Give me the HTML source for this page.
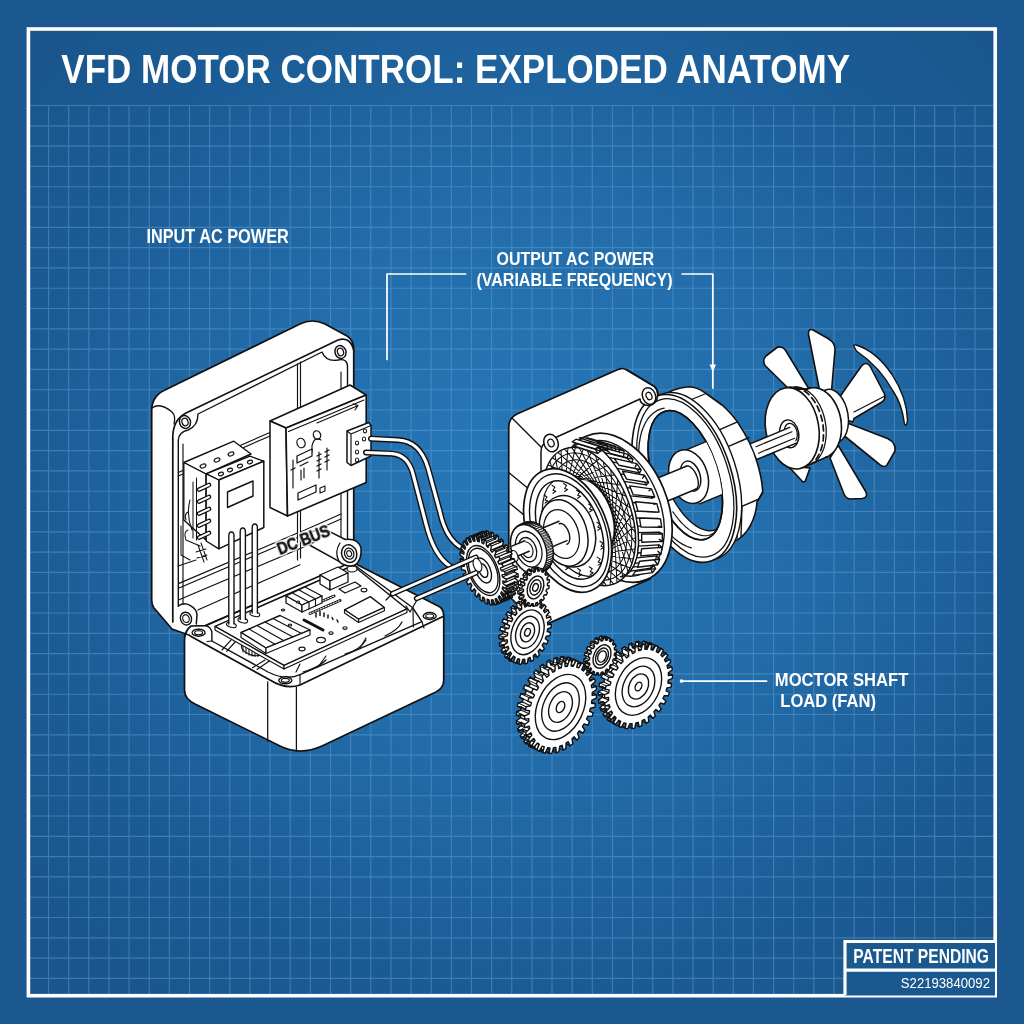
<!DOCTYPE html>
<html><head><meta charset="utf-8"><title>VFD Motor Control: Exploded Anatomy</title>
<style>
html,body{margin:0;padding:0;width:1024px;height:1024px;overflow:hidden;background:#1b588f}
svg{display:block;font-family:"Liberation Sans",Arial,sans-serif}
</style></head><body>
<svg width="1024" height="1024" viewBox="0 0 1024 1024">
<defs>
<filter id="gs" x="-5%" y="-20%" width="110%" height="140%"><feOffset dx="0" dy="0"/></filter>
<radialGradient id="bg" cx="530" cy="480" r="640" gradientUnits="userSpaceOnUse">
<stop offset="0" stop-color="#2778b8"/><stop offset=".45" stop-color="#226ca9"/><stop offset=".8" stop-color="#1b5b95"/><stop offset="1" stop-color="#1a568d"/>
</radialGradient>
</defs>
<rect width="1024" height="1024" fill="#1b588f"/>
<rect x="28" y="28" width="968" height="968" fill="url(#bg)"/>
<path id="gridp" d="M48.54 105.5V994M68.68 105.5V994M88.82 105.5V994M108.96 105.5V994M129.10 105.5V994M149.24 105.5V994M169.38 105.5V994M189.52 105.5V994M209.66 105.5V994M229.80 105.5V994M249.94 105.5V994M270.08 105.5V994M290.22 105.5V994M310.36 105.5V994M330.50 105.5V994M350.64 105.5V994M370.78 105.5V994M390.92 105.5V994M411.06 105.5V994M431.20 105.5V994M451.34 105.5V994M471.48 105.5V994M491.62 105.5V994M511.76 105.5V994M531.90 105.5V994M552.04 105.5V994M572.18 105.5V994M592.32 105.5V994M612.46 105.5V994M632.60 105.5V994M652.74 105.5V994M672.88 105.5V994M693.02 105.5V994M713.16 105.5V994M733.30 105.5V994M753.44 105.5V994M773.58 105.5V994M793.72 105.5V994M813.86 105.5V994M834.00 105.5V994M854.14 105.5V994M874.28 105.5V994M894.42 105.5V994M914.56 105.5V994M934.70 105.5V994M954.84 105.5V994M974.98 105.5V994M30 105.50H994M30 125.80H994M30 146.10H994M30 166.40H994M30 186.70H994M30 207.00H994M30 227.30H994M30 247.60H994M30 267.90H994M30 288.20H994M30 308.50H994M30 328.80H994M30 349.10H994M30 369.40H994M30 389.70H994M30 410.00H994M30 430.30H994M30 450.60H994M30 470.90H994M30 491.20H994M30 511.50H994M30 531.80H994M30 552.10H994M30 572.40H994M30 592.70H994M30 613.00H994M30 633.30H994M30 653.60H994M30 673.90H994M30 694.20H994M30 714.50H994M30 734.80H994M30 755.10H994M30 775.40H994M30 795.70H994M30 816.00H994M30 836.30H994M30 856.60H994M30 876.90H994M30 897.20H994M30 917.50H994M30 937.80H994M30 958.10H994M30 978.40H994" stroke="#6aa3d8" stroke-opacity=".45" stroke-width="1.15" fill="none"/>
<rect x="28.4" y="29" width="966.8" height="966.7" fill="none" stroke="#fff" stroke-width="3.6"/>
<rect x="845" y="941.5" width="150" height="54" fill="#1a5890"/>
<path d="M845 995V941.5H995M845 970.2H995" fill="none" stroke="#fff" stroke-width="3.2"/>
<text x="61.3" y="82.6" font-size="41.5" font-weight="bold" fill="#fff" text-anchor="start" textLength="788.7" lengthAdjust="spacingAndGlyphs" filter="url(#gs)" >VFD MOTOR CONTROL: EXPLODED ANATOMY</text>
<text x="146.4" y="242.9" font-size="19.5" font-weight="bold" fill="#fff" text-anchor="start" textLength="142.4" lengthAdjust="spacingAndGlyphs" filter="url(#gs)" >INPUT AC POWER</text>
<text x="496.6" y="265.2" font-size="18.7" font-weight="bold" fill="#fff" text-anchor="start" textLength="157.4" lengthAdjust="spacingAndGlyphs" filter="url(#gs)" >OUTPUT AC POWER</text>
<text x="476.5" y="285.5" font-size="18.7" font-weight="bold" fill="#fff" text-anchor="start" textLength="196" lengthAdjust="spacingAndGlyphs" filter="url(#gs)" >(VARIABLE FREQUENCY)</text>
<text x="774.8" y="685.5" font-size="18.3" font-weight="bold" fill="#fff" text-anchor="start" textLength="133.5" lengthAdjust="spacingAndGlyphs" filter="url(#gs)" >MOCTOR SHAFT</text>
<text x="780.3" y="706.6" font-size="18.3" font-weight="bold" fill="#fff" text-anchor="start" textLength="95.7" lengthAdjust="spacingAndGlyphs" filter="url(#gs)" >LOAD (FAN)</text>
<text x="853.3" y="963" font-size="19.5" font-weight="bold" fill="#fff" text-anchor="start" textLength="135.7" lengthAdjust="spacingAndGlyphs" filter="url(#gs)" >PATENT PENDING</text>
<text x="900.8" y="987.7" font-size="14.5" font-weight="normal" fill="#fff" text-anchor="start" textLength="89.2" lengthAdjust="spacingAndGlyphs" filter="url(#gs)" >S22193840092</text>
<path d="M151.7 410 Q152 396 165 390 L300 324 Q312 318 325 324 L347 336 Q353.75 340 353.75 350 L353.75 562 L186 634 L172 629 L154 608 Q151.7 605 151.7 600 Z" fill="#fff" stroke="#111" stroke-width="1.72" stroke-linejoin="round" stroke-linecap="round" />
<path d="M172.8 440 Q172 420 186 413 L338 340 Q350 336 353.75 350" fill="none" stroke="#111" stroke-width="1.72" stroke-linejoin="round" stroke-linecap="round" />
<path d="M172.8 440 L172.8 622" fill="none" stroke="#111" stroke-width="1.72" stroke-linejoin="round" stroke-linecap="round" />
<path d="M152 408 Q160 402 172 412 Q176 416 174 424" fill="none" stroke="#111" stroke-width="1.26" stroke-linejoin="round" stroke-linecap="round" />
<path d="M178.3 606 L178.3 440 Q179 432 188 430 Q198 426 198 414 L322 352 Q326 362 338 360 Q347 358 347.5 366 L347.5 545" fill="none" stroke="#111" stroke-width="1.38" stroke-linejoin="round" stroke-linecap="round" />
<path d="M183 604 L183 444 M341 372 L341 540" fill="none" stroke="#111" stroke-width="1.15" stroke-linejoin="round" stroke-linecap="round" />
<path d="M297.5 364 L297.5 560 M300.5 362 L300.5 558" fill="none" stroke="#111" stroke-width="1.15" stroke-linejoin="round" stroke-linecap="round" />
<path d="M178.3 472.5 L270 432.5 M178.3 476 L270 436" fill="none" stroke="#111" stroke-width="1.15" stroke-linejoin="round" stroke-linecap="round" />
<path d="M179 583.4 L297.5 533 M179 588 L297.5 537.5 M179 599.8 L332 535 M197.8 610 L300 564.7 M300.5 532 L341 514 M300.5 537 L341 519" fill="none" stroke="#111" stroke-width="1.15" stroke-linejoin="round" stroke-linecap="round" />
<ellipse cx="185.0" cy="422.0" rx="5.5" ry="6.5" transform="rotate(-20 185.0 422.0)" fill="#fff" stroke="#111" stroke-width="1.49" />
<ellipse cx="185.0" cy="422.0" rx="3.0" ry="3.8" transform="rotate(-20 185.0 422.0)" fill="#fff" stroke="#111" stroke-width="1.26" />
<ellipse cx="340.5" cy="352.0" rx="5.5" ry="6.5" transform="rotate(-20 340.5 352.0)" fill="#fff" stroke="#111" stroke-width="1.49" />
<ellipse cx="340.5" cy="352.0" rx="3.0" ry="3.8" transform="rotate(-20 340.5 352.0)" fill="#fff" stroke="#111" stroke-width="1.26" />
<path d="M178.3 606 Q184 602 190 605.3 Q197 609 197 615 L196.3 624" fill="none" stroke="#111" stroke-width="1.49" stroke-linejoin="round" stroke-linecap="round" />
<ellipse cx="186.0" cy="618.6" rx="5.5" ry="6.5" transform="rotate(-20 186.0 618.6)" fill="#fff" stroke="#111" stroke-width="1.38" />
<ellipse cx="186.0" cy="618.6" rx="3.2" ry="4.0" transform="rotate(-20 186.0 618.6)" fill="#fff" stroke="#111" stroke-width="1.15" />
<path d="M184.5 640 Q184.5 631 191 626 L205.6 625.6 L352 562 L440 607 Q443.75 610 443.75 616 L443.75 680 Q443.75 688 436 692 L322 746 Q300 756 280 746 L195 704 Q184.5 699 184.5 690 Z" fill="#fff" stroke="#111" stroke-width="1.72" stroke-linejoin="round" stroke-linecap="round" />
<path d="M184.5 636 Q185 632 192 637 L270 680 Q286 690 300 685 L443 616.5" fill="none" stroke="#111" stroke-width="1.72" stroke-linejoin="round" stroke-linecap="round" />
<path d="M267.7 682 L267.7 741 M296.4 687.5 L296.4 751" fill="none" stroke="#111" stroke-width="1.26" stroke-linejoin="round" stroke-linecap="round" />
<path d="M205.6 625.6 Q212 627 211.9 634 L211.9 641 L268 672 Q286 681 300 674.7 L421.9 621.6 L412.5 607.5 L354.7 565.3" fill="none" stroke="#111" stroke-width="1.38" stroke-linejoin="round" stroke-linecap="round" />
<path d="M211.9 641 L207 641.5 M300 685 L300 675 M413 608 L413.3 627 M421.9 621.6 L424 628" fill="none" stroke="#111" stroke-width="1.15" stroke-linejoin="round" stroke-linecap="round" />
<path d="M222 650 L231.4 639.7 M226.7 651.4 L236 641 M252.5 667.8 L265 660 M257 669.4 L269.7 660.8" fill="none" stroke="#111" stroke-width="1.15" stroke-linejoin="round" stroke-linecap="round" />
<ellipse cx="198.6" cy="632.7" rx="6.5" ry="3.5" transform="rotate(0 198.6 632.7)" fill="#fff" stroke="#111" stroke-width="1.38" />
<ellipse cx="198.6" cy="632.7" rx="4.0" ry="2.0" transform="rotate(0 198.6 632.7)" fill="#fff" stroke="#111" stroke-width="1.15" />
<ellipse cx="285.3" cy="680.3" rx="6.5" ry="3.5" transform="rotate(0 285.3 680.3)" fill="#fff" stroke="#111" stroke-width="1.38" />
<ellipse cx="285.3" cy="680.3" rx="4.0" ry="2.0" transform="rotate(0 285.3 680.3)" fill="#fff" stroke="#111" stroke-width="1.15" />
<ellipse cx="429.7" cy="616.0" rx="6.5" ry="3.5" transform="rotate(0 429.7 616.0)" fill="#fff" stroke="#111" stroke-width="1.38" />
<ellipse cx="429.7" cy="616.0" rx="4.0" ry="2.0" transform="rotate(0 429.7 616.0)" fill="#fff" stroke="#111" stroke-width="1.15" />
<path d="M303 672 Q318 668 326 660 M345 654 Q360 650 366 640 M385 636 Q398 630 402 622" fill="none" stroke="#111" stroke-width="1.26" stroke-linejoin="round" stroke-linecap="round" />
<path d="M318 667 L326 656 M360 648 L366 638 M296 672 L300 664" fill="none" stroke="#111" stroke-width="1.15" stroke-linejoin="round" stroke-linecap="round" />
<ellipse cx="252.0" cy="649.0" rx="11.0" ry="6.0" transform="rotate(20 252.0 649.0)" fill="#fff" stroke="#111" stroke-width="1.15" />
<path d="M243 646 l0 6 M246 647.5 l0 6 M249 649 l0 6 M252 650 l0 6 M255 651 l0 5.5 M258 651.5 l0 5 M261 651.5 l0 4" fill="none" stroke="#111" stroke-width="1.03" stroke-linejoin="round" stroke-linecap="round" />
<path d="M215.0 626.4 L353.0 565.5 L407.0 609.0 L284.0 665.5 Z" fill="#fff" stroke="#111" stroke-width="1.49" stroke-linejoin="round" stroke-linecap="round" />
<path d="M215.0 626.4 L284.0 665.5 L284.0 669.0 L215.0 630.0 Z" fill="#fff" stroke="#111" stroke-width="1.15" stroke-linejoin="round" stroke-linecap="round" />
<path d="M284.0 665.5 L407.0 609.0 L407.0 612.5 L284.0 669.0 Z" fill="#fff" stroke="#111" stroke-width="1.15" stroke-linejoin="round" stroke-linecap="round" />
<path d="M241.0 632.5 L280.0 615.5 L310.0 630.0 L266.0 648.0 Z" fill="#fff" stroke="#111" stroke-width="1.38" stroke-linejoin="round" stroke-linecap="round" />
<path d="M241.0 632.5 L266.0 648.0 L266.0 653.5 L241.0 637.5 Z" fill="#fff" stroke="#111" stroke-width="1.15" stroke-linejoin="round" stroke-linecap="round" />
<path d="M266.0 648.0 L310.0 630.0 L310.0 635.0 L266.0 653.5 Z" fill="#fff" stroke="#111" stroke-width="1.15" stroke-linejoin="round" stroke-linecap="round" />
<path d="M249 629 L275 644.3 M257 625.5 L284 640.7 M265 622 L293 637 M273 618.5 L301.5 633.4" fill="none" stroke="#111" stroke-width="1.15" stroke-linejoin="round" stroke-linecap="round" />
<path d="M344.5 609.8 L370.3 596.6 L384.4 607.5 L358.6 619.2 Z" fill="#fff" stroke="#111" stroke-width="1.38" stroke-linejoin="round" stroke-linecap="round" />
<path d="M344.5 609.8 L358.6 619.2 L358.6 622.4 L344.5 613.0 Z" fill="#fff" stroke="#111" stroke-width="1.15" stroke-linejoin="round" stroke-linecap="round" />
<path d="M358.6 619.2 L384.4 607.5 L384.4 610.7 L358.6 622.4 Z" fill="#fff" stroke="#111" stroke-width="1.15" stroke-linejoin="round" stroke-linecap="round" />
<path d="M304.5 609 L334 596 M310 613.5 L340 600.5" fill="none" stroke="#111" stroke-width="2.99" stroke-linejoin="round" stroke-linecap="round" />
<path d="M304.5 609 L334 596 M310 613.5 L340 600.5" fill="none" stroke="#fff" stroke-width="1.03" stroke-linejoin="round" stroke-linecap="round" stroke-dasharray="1.2 1.6"/>
<path d="M304 620 L323 630" fill="none" stroke="#111" stroke-width="2.99" stroke-linejoin="round" stroke-linecap="round" />
<path d="M316 613 l0 4 M320 611.5 l0 4 M324 613 l0 3.5 M328 615 l0 3 M332 617.5 l1 2 M337 620 l1 2" fill="none" stroke="#111" stroke-width="1.49" stroke-linejoin="round" stroke-linecap="round" />
<path d="M286.0 596.0 L305.0 587.0 L322.0 596.0 L302.0 605.0 Z" fill="#fff" stroke="#111" stroke-width="1.26" stroke-linejoin="round" stroke-linecap="round" />
<path d="M286.0 596.0 L302.0 605.0 L302.0 612.0 L286.0 603.0 Z" fill="#fff" stroke="#111" stroke-width="1.26" stroke-linejoin="round" stroke-linecap="round" />
<path d="M302.0 605.0 L322.0 596.0 L322.0 603.0 L302.0 612.0 Z" fill="#fff" stroke="#111" stroke-width="1.26" stroke-linejoin="round" stroke-linecap="round" />
<path d="M292.5 593 L309 602 L309 609 M299 590 L315.5 599 L315.5 606" fill="none" stroke="#111" stroke-width="1.15" stroke-linejoin="round" stroke-linecap="round" />
<path d="M320.0 575.0 L338.0 567.0 L348.0 573.0 L330.0 581.0 Z" fill="#fff" stroke="#111" stroke-width="1.26" stroke-linejoin="round" stroke-linecap="round" />
<path d="M320.0 575.0 L330.0 581.0 L330.0 590.0 L320.0 584.0 Z" fill="#fff" stroke="#111" stroke-width="1.26" stroke-linejoin="round" stroke-linecap="round" />
<path d="M330.0 581.0 L348.0 573.0 L348.0 582.0 L330.0 590.0 Z" fill="#fff" stroke="#111" stroke-width="1.26" stroke-linejoin="round" stroke-linecap="round" />
<ellipse cx="352.0" cy="569.0" rx="5.0" ry="3.0" transform="rotate(0 352.0 569.0)" fill="#fff" stroke="#111" stroke-width="1.15" />
<path d="M339.0 589.0 L355.0 582.0 L361.0 586.0 L345.0 593.0 Z" fill="#fff" stroke="#111" stroke-width="1.26" stroke-linejoin="round" stroke-linecap="round" />
<ellipse cx="321.0" cy="640.0" rx="4.4" ry="2.7" transform="rotate(0 321.0 640.0)" fill="#fff" stroke="#111" stroke-width="1.15" />
<ellipse cx="302.0" cy="649.0" rx="3.1" ry="1.9" transform="rotate(0 302.0 649.0)" fill="#fff" stroke="#111" stroke-width="1.15" />
<ellipse cx="345.0" cy="628.0" rx="2.1" ry="1.3" transform="rotate(0 345.0 628.0)" fill="#fff" stroke="#111" stroke-width="1.15" />
<ellipse cx="331.0" cy="633.0" rx="2.1" ry="1.3" transform="rotate(0 331.0 633.0)" fill="#fff" stroke="#111" stroke-width="1.15" />
<ellipse cx="364.0" cy="590.0" rx="2.9" ry="1.8" transform="rotate(0 364.0 590.0)" fill="#fff" stroke="#111" stroke-width="1.15" />
<ellipse cx="283.0" cy="610.0" rx="1.7" ry="1.0" transform="rotate(0 283.0 610.0)" fill="#fff" stroke="#111" stroke-width="1.15" />
<ellipse cx="290.0" cy="625.0" rx="1.7" ry="1.0" transform="rotate(0 290.0 625.0)" fill="#fff" stroke="#111" stroke-width="1.15" />
<ellipse cx="298.0" cy="602.0" rx="1.6" ry="1.0" transform="rotate(0 298.0 602.0)" fill="#fff" stroke="#111" stroke-width="1.15" />
<path d="M309.4 545 L339 561.4 Q346 568 355 565 Q362 560 361 548 Q358 538 345.3 539.5 L329.7 531.7 Z" fill="#fff" stroke="#111" stroke-width="1.49" stroke-linejoin="round" stroke-linecap="round" />
<ellipse cx="349.2" cy="553.6" rx="7.5" ry="9.0" transform="rotate(-20 349.2 553.6)" fill="#fff" stroke="#111" stroke-width="1.49" />
<ellipse cx="349.2" cy="553.6" rx="4.6" ry="5.6" transform="rotate(-20 349.2 553.6)" fill="#fff" stroke="#111" stroke-width="1.26" />
<ellipse cx="349.2" cy="553.6" rx="2.4" ry="3.0" transform="rotate(-20 349.2 553.6)" fill="#fff" stroke="#111" stroke-width="1.03" />
<path d="M339 561.4 Q334 552 340 543" fill="none" stroke="#111" stroke-width="1.26" stroke-linejoin="round" stroke-linecap="round" />
<path d="M183.8 462.5 L233.8 441.2 L251.0 454.0 L206.0 474.0 Z" fill="#fff" stroke="#111" stroke-width="1.38" stroke-linejoin="round" stroke-linecap="round" />
<path d="M183.8 462.5 L206.0 474.0 L206.0 540.0 L183.8 520.0 Z" fill="#fff" stroke="#111" stroke-width="1.38" stroke-linejoin="round" stroke-linecap="round" />
<path d="M206.2 473.8 L250.0 456.2 L263.8 461.2 L218.8 480.0 Z" fill="#fff" stroke="#111" stroke-width="1.38" stroke-linejoin="round" stroke-linecap="round" />
<path d="M218.8 480.0 L263.8 461.2 L263.8 527.5 L218.8 548.8 Z" fill="#fff" stroke="#111" stroke-width="1.49" stroke-linejoin="round" stroke-linecap="round" />
<path d="M206.2 473.8 L218.8 480.0 L218.8 548.8 L206.2 541.0 Z" fill="#fff" stroke="#111" stroke-width="1.38" stroke-linejoin="round" stroke-linecap="round" />
<path d="M227.5 492.0 L253.0 481.0 L253.0 496.0 L227.5 507.5 Z" fill="#fff" stroke="#111" stroke-width="1.38" stroke-linejoin="round" stroke-linecap="round" />
<ellipse cx="203.0" cy="466.0" rx="3.0" ry="1.8" transform="rotate(-20 203.0 466.0)" fill="#fff" stroke="#111" stroke-width="1.15" />
<ellipse cx="217.0" cy="460.0" rx="3.0" ry="1.8" transform="rotate(-20 217.0 460.0)" fill="#fff" stroke="#111" stroke-width="1.15" />
<ellipse cx="231.0" cy="454.0" rx="3.0" ry="1.8" transform="rotate(-20 231.0 454.0)" fill="#fff" stroke="#111" stroke-width="1.15" />
<ellipse cx="221.0" cy="474.0" rx="2.6" ry="1.7" transform="rotate(-20 221.0 474.0)" fill="#fff" stroke="#111" stroke-width="1.15" />
<ellipse cx="230.0" cy="470.0" rx="2.6" ry="1.7" transform="rotate(-20 230.0 470.0)" fill="#fff" stroke="#111" stroke-width="1.15" />
<ellipse cx="240.0" cy="466.0" rx="2.6" ry="1.7" transform="rotate(-20 240.0 466.0)" fill="#fff" stroke="#111" stroke-width="1.15" />
<ellipse cx="250.0" cy="462.0" rx="2.6" ry="1.7" transform="rotate(-20 250.0 462.0)" fill="#fff" stroke="#111" stroke-width="1.15" />
<path d="M196.5 478 L196.5 540 M193 482 L193 538 M190 500 Q186 515 192 530" fill="none" stroke="#111" stroke-width="1.03" stroke-linejoin="round" stroke-linecap="round" />
<path d="M199 489.6 L209 485" fill="none" stroke="#111" stroke-width="4.6" stroke-linecap="round"/>
<path d="M199 489.6 L209 485" fill="none" stroke="#fff" stroke-width="2" stroke-linecap="round"/>
<path d="M199 501.6 L209 497" fill="none" stroke="#111" stroke-width="4.6" stroke-linecap="round"/>
<path d="M199 501.6 L209 497" fill="none" stroke="#fff" stroke-width="2" stroke-linecap="round"/>
<path d="M199 513.6 L209 509" fill="none" stroke="#111" stroke-width="4.6" stroke-linecap="round"/>
<path d="M199 513.6 L209 509" fill="none" stroke="#fff" stroke-width="2" stroke-linecap="round"/>
<path d="M199 525.6 L209 521" fill="none" stroke="#111" stroke-width="4.6" stroke-linecap="round"/>
<path d="M199 525.6 L209 521" fill="none" stroke="#fff" stroke-width="2" stroke-linecap="round"/>
<path d="M199 537.6 L209 533" fill="none" stroke="#111" stroke-width="4.6" stroke-linecap="round"/>
<path d="M199 537.6 L209 533" fill="none" stroke="#fff" stroke-width="2" stroke-linecap="round"/>
<path d="M181 526 L181 555 L190 560 M186 540 L200 546 M178 566 L196 560 M188 512 Q184 514 186 520 M188 530 Q183 532 186 540" fill="none" stroke="#111" stroke-width="1.03" stroke-linejoin="round" stroke-linecap="round" />
<path d="M198 545 L204 562 M201 543 L207 560 M196 552 L206 549 M197 558 L207 555" fill="none" stroke="#111" stroke-width="1.03" stroke-linejoin="round" stroke-linecap="round" />
<ellipse cx="231.4" cy="625.0" rx="5.0" ry="2.4" transform="rotate(15 231.4 625.0)" fill="#fff" stroke="#111" stroke-width="1.15" />
<path d="M228.8 624 L228.8 536 Q228.8 532 231.4 532 Q234.0 532 234.0 536 L234.0 624" fill="#fff" stroke="#111" stroke-width="1.38" stroke-linejoin="round" stroke-linecap="round" />
<ellipse cx="242.8" cy="620.4" rx="5.0" ry="2.4" transform="rotate(15 242.8 620.4)" fill="#fff" stroke="#111" stroke-width="1.15" />
<path d="M240.20000000000002 619.4 L240.20000000000002 532 Q240.20000000000002 528 242.8 528 Q245.4 528 245.4 532 L245.4 619.4" fill="#fff" stroke="#111" stroke-width="1.38" stroke-linejoin="round" stroke-linecap="round" />
<ellipse cx="254.8" cy="614.0" rx="5.0" ry="2.4" transform="rotate(15 254.8 614.0)" fill="#fff" stroke="#111" stroke-width="1.15" />
<path d="M252.20000000000002 613 L252.20000000000002 528 Q252.20000000000002 524 254.8 524 Q257.40000000000003 524 257.40000000000003 528 L257.40000000000003 613" fill="#fff" stroke="#111" stroke-width="1.38" stroke-linejoin="round" stroke-linecap="round" />
<path d="M270.0 421.0 L350.0 385.0 L366.2 395.0 L286.0 428.0 Z" fill="#fff" stroke="#111" stroke-width="1.49" stroke-linejoin="round" stroke-linecap="round" />
<path d="M270.0 421.0 L286.0 428.0 L287.5 516.0 L270.0 507.5 Z" fill="#fff" stroke="#111" stroke-width="1.49" stroke-linejoin="round" stroke-linecap="round" />
<path d="M286.0 428.0 L366.2 395.0 L366.2 482.5 L287.5 516.0 Z" fill="#fff" stroke="#111" stroke-width="1.61" stroke-linejoin="round" stroke-linecap="round" />
<path d="M288.5 431.5 L364 400" fill="none" stroke="#111" stroke-width="1.15" stroke-linejoin="round" stroke-linecap="round" />
<path d="M317 423 L357 406 M353 404 L358 405.5 L355 410" fill="none" stroke="#111" stroke-width="1.15" stroke-linejoin="round" stroke-linecap="round" />
<ellipse cx="301.0" cy="443.0" rx="4.0" ry="4.8" transform="rotate(-20 301.0 443.0)" fill="#fff" stroke="#111" stroke-width="1.26" />
<ellipse cx="317.0" cy="435.0" rx="3.6" ry="4.3" transform="rotate(-20 317.0 435.0)" fill="#fff" stroke="#111" stroke-width="1.26" />
<path d="M321 440 Q314 436 312 446 L312 452" fill="none" stroke="#111" stroke-width="1.15" stroke-linejoin="round" stroke-linecap="round" />
<path d="M297.0 456.0 L312.0 449.0 L312.0 456.0 L297.0 463.0 Z" fill="#fff" stroke="#111" stroke-width="1.26" stroke-linejoin="round" stroke-linecap="round" />
<path d="M298.0 493.0 L316.0 485.0 L316.0 492.0 L298.0 500.0 Z" fill="#fff" stroke="#111" stroke-width="1.26" stroke-linejoin="round" stroke-linecap="round" />
<path d="M293 460 L293 488 M319 452 L319 478 M327 448 L327 470" fill="none" stroke="#111" stroke-width="1.15" stroke-linejoin="round" stroke-linecap="round" />
<path d="M291 470 L295 468 M317 456 L321 454 M317 461 L321 459 M317 466 L321 464 M317 471 L321 469 M325 452 L329 450 M325 457 L329 455 M325 462 L329 460" fill="none" stroke="#111" stroke-width="1.38" stroke-linejoin="round" stroke-linecap="round" />
<path d="M301 470 L301 480 M304 468 L304 478 M300 466 L308 462" fill="none" stroke="#111" stroke-width="1.15" stroke-linejoin="round" stroke-linecap="round" />
<path d="M320.0 488.0 L325.0 486.0 L325.0 491.0 L320.0 493.0 Z" fill="#fff" stroke="#111" stroke-width="1.15" stroke-linejoin="round" stroke-linecap="round" />
<path d="M347.0 431.0 L368.8 422.5 L371.0 425.5 L371.0 456.0 L351.0 465.5 L347.0 462.5 Z" fill="#fff" stroke="#111" stroke-width="1.49" stroke-linejoin="round" stroke-linecap="round" />
<path d="M347 431 L351 434 L371 425.5 M351 434 L351 465.5" fill="none" stroke="#111" stroke-width="1.15" stroke-linejoin="round" stroke-linecap="round" />
<ellipse cx="357.0" cy="443.0" rx="1.6" ry="2.0" transform="rotate(0 357.0 443.0)" fill="#fff" stroke="#111" stroke-width="1.03" />
<ellipse cx="357.0" cy="452.0" rx="1.6" ry="2.0" transform="rotate(0 357.0 452.0)" fill="#fff" stroke="#111" stroke-width="1.03" />
<ellipse cx="357.0" cy="460.0" rx="1.6" ry="2.0" transform="rotate(0 357.0 460.0)" fill="#fff" stroke="#111" stroke-width="1.03" />
<ellipse cx="365.0" cy="431.0" rx="1.6" ry="2.0" transform="rotate(0 365.0 431.0)" fill="#fff" stroke="#111" stroke-width="1.03" />
<ellipse cx="364.0" cy="439.0" rx="1.6" ry="2.0" transform="rotate(0 364.0 439.0)" fill="#fff" stroke="#111" stroke-width="1.03" />
<g filter="url(#gs)" transform="rotate(-21 280 555.5)" font-size="16.5" font-weight="bold"><text x="280" y="555.5" fill="#fff" stroke="#fff" stroke-width="3.6" stroke-linejoin="round" textLength="55" lengthAdjust="spacingAndGlyphs">DC BUS</text><text x="280" y="555.5" fill="#111" stroke="#111" stroke-width=".55" textLength="55" lengthAdjust="spacingAndGlyphs">DC BUS</text></g>
<path d="M366 452.5 L392 453.7 Q408 455 413 474 L426 524 Q434 556 450 566" fill="none" stroke="#111" stroke-width="6" stroke-linecap="round"/>
<path d="M366 452.5 L392 453.7 Q408 455 413 474 L426 524 Q434 556 450 566" fill="none" stroke="#fff" stroke-width="3.2" stroke-linecap="round"/>
<path d="M371 438.7 L398 440 Q420 441 428 468 L440 512 Q446 540 463 548.5" fill="none" stroke="#111" stroke-width="6" stroke-linecap="round"/>
<path d="M371 438.7 L398 440 Q420 441 428 468 L440 512 Q446 540 463 548.5" fill="none" stroke="#fff" stroke-width="3.2" stroke-linecap="round"/>
<path d="M392 594 L386 600 M417 600 L410 612 L406 606" fill="none" stroke="#111" stroke-width="1.26" stroke-linejoin="round" stroke-linecap="round" />
<path d="M508.75 427 Q508.75 418 517 414 L618 369.5 Q622.5 367.5 627 370 L650 384 Q660 388 657 399 L650 408 L650 579 L552.5 621.6 L541 627 L508.75 596 Z" fill="#fff" stroke="#111" stroke-width="1.72" stroke-linejoin="round" stroke-linecap="round" />
<path d="M541 620 L541 452 Q541 444 548 441 L640 399" fill="none" stroke="#111" stroke-width="1.49" stroke-linejoin="round" stroke-linecap="round" />
<path d="M512 418 L541 447 M508.75 472.5 L541 499 M508.75 502.5 L541 529" fill="none" stroke="#111" stroke-width="1.38" stroke-linejoin="round" stroke-linecap="round" />
<ellipse cx="551.0" cy="443.0" rx="7.0" ry="9.0" transform="rotate(-22.6 551.0 443.0)" fill="#fff" stroke="#111" stroke-width="1.49" />
<ellipse cx="551.0" cy="443.0" rx="3.0" ry="4.0" transform="rotate(-22.6 551.0 443.0)" fill="#fff" stroke="#111" stroke-width="1.26" />
<path d="M660 398 Q672 388 688.6 386.7 Q698 387 706 393.5 L722 405 Q732 414 737.4 421.9 Q752 444 757 462 Q762 478 762.8 492 L757 502 Q756 518 747 531 Q740 540 731.5 542 L722 548 L690 500 Z" fill="#fff" stroke="#111" stroke-width="1.61" stroke-linejoin="round" stroke-linecap="round" />
<path d="M719.8 429.7 L737.4 421.9 M728.6 446.3 L749 437.5 M738.4 507.8 L759 499 L762.8 492 M738.4 507.8 L737 538 M742 506 L741 536" fill="none" stroke="#111" stroke-width="1.38" stroke-linejoin="round" stroke-linecap="round" />
<path d="M706 393.5 L688 401" fill="none" stroke="#111" stroke-width="1.26" stroke-linejoin="round" stroke-linecap="round" />
<ellipse cx="689.3" cy="476.4" rx="47.2" ry="86.8" transform="rotate(-18 689.3 476.4)" fill="#fff" stroke="#111" stroke-width="1.38" />
<ellipse cx="684.3" cy="478.4" rx="47.2" ry="86.8" transform="rotate(-18 684.3 478.4)" fill="#fff" stroke="#111" stroke-width="1.61" />
<ellipse cx="685.3" cy="477.9" rx="43.5" ry="82.0" transform="rotate(-18 685.3 477.9)" fill="none" stroke="#111" stroke-width="1.26" />
<path d="M691.3 547.9 L687.1 546.5 L682.8 544.4 L678.5 541.7 L674.3 538.4 L670.1 534.5 L666.1 530.2 L662.2 525.3 L658.6 520.1 L655.1 514.4 L651.9 508.5 L649.0 502.2 L646.4 495.7 L644.2 489.1 L642.3 482.4 L640.8 475.6 L639.7 468.8 L639.0 462.2 L638.7 455.7 L638.8 449.4 L639.3 443.4 L640.2 437.7 L641.5 432.3 L643.2 427.4 L645.3 423.0 L647.7 419.0 L650.5 415.7 L653.5 412.9 L656.8 410.7 L660.4 409.1 L664.2 408.1" fill="none" stroke="#111" stroke-width="1.26" stroke-linejoin="round" stroke-linecap="round" />
<ellipse cx="685.3" cy="475.2" rx="32.5" ry="67.0" transform="rotate(-18 685.3 475.2)" fill="url(#bg)" stroke="#111" stroke-width="1.49" />
<clipPath id="hole"><ellipse cx="685.3" cy="475.2" rx="32.5" ry="67" transform="rotate(-18 685.3 475.2)"/></clipPath>
<g clip-path="url(#hole)">
<path d="M652.74 400V550M672.88 400V550M693.02 400V550M713.16 400V550M733.30 400V550M640 410.00H735M640 430.30H735M640 450.60H735M640 470.90H735M640 491.20H735M640 511.50H735M640 531.80H735" stroke="#6aa3d8" stroke-opacity=".45" stroke-width="1.15" fill="none"/>
<path d="M712.1 454.2 L714.0 459.0 L715.8 463.8 L717.3 468.6 L718.6 473.6 L719.8 478.5 L720.8 483.4 L721.5 488.2 L722.1 493.0 L722.4 497.7 L722.5 502.3 L722.4 506.6 L722.1 510.8 L721.5 514.8 L720.8 518.6 L719.8 522.1 L718.7 525.4 L717.3 528.3 L715.8 530.9 L714.1 533.3 L712.2 535.2 L710.2 536.9 L708.0 538.1 L705.7 539.0 L703.2 539.6 L700.7 539.7 L698.1 539.5 L695.4 538.9 L692.6 537.9 L689.8 536.6 L687.0 534.9 L684.1 532.8 L681.3 530.5 L678.5 527.8 L675.7 524.8 L673.0 521.5 L670.4 517.9 L667.8 514.1 L665.3 510.1 L663.0 505.8 L660.8 501.4 L669.8 492.4 L672.0 496.8 L674.3 501.1 L676.8 505.1 L679.4 508.9 L682.0 512.5 L684.7 515.8 L687.5 518.8 L690.3 521.5 L693.1 523.8 L696.0 525.9 L698.8 527.6 L701.6 528.9 L704.4 529.9 L707.1 530.5 L709.7 530.7 L712.2 530.6 L714.7 530.0 L717.0 529.1 L719.2 527.9 L721.2 526.2 L723.1 524.3 L724.8 521.9 L726.3 519.3 L727.7 516.4 L728.8 513.1 L729.8 509.6 L730.5 505.8 L731.1 501.8 L731.4 497.6 L731.5 493.3 L731.4 488.7 L731.1 484.0 L730.5 479.2 L729.8 474.4 L728.8 469.5 L727.6 464.6 L726.3 459.6 L724.8 454.8 L723.0 450.0 L721.1 445.2 Z" fill="#fff" stroke="#111" stroke-width="1.38" stroke-linejoin="round" stroke-linecap="round" />
<path d="M725.4 483.6 L725.9 487.1 L726.2 490.6 L726.4 494.1 L726.5 497.5 L726.5 500.8 L726.3 504.0 L726.1 507.1 L725.7 510.1 L725.2 512.9 L724.5 515.6 L723.8 518.2 L723.0 520.6 L722.0 522.9 L721.0 525.0 L719.8 526.9 L718.5 528.7 L717.2 530.3 L715.8 531.6 L714.2 532.8 L712.6 533.8 L710.9 534.6 L709.2 535.2 L707.4 535.5 L705.5 535.7 L703.6 535.7 L701.6 535.4 L699.6 534.9 L697.6 534.3 L695.5 533.4 L693.4 532.4 L691.3 531.1 L689.2 529.6 L687.1 528.0 L685.0 526.2 L682.9 524.2 L680.8 522.0 L678.8 519.7 L676.8 517.2 L674.8 514.5 L672.9 511.8" fill="none" stroke="#111" stroke-width="1.15" stroke-linejoin="round" stroke-linecap="round" />
</g>
<ellipse cx="685.3" cy="475.2" rx="32.5" ry="67.0" transform="rotate(-18 685.3 475.2)" fill="none" stroke="#111" stroke-width="1.49" />
<path d="M750.7 443.6 L791.7 426.6 L798.3 442.3 L757.3 459.3 Z" fill="#fff" stroke="none" stroke-width="1.49" stroke-linejoin="round" stroke-linecap="round" />
<path d="M750.7 443.6 L791.7 426.6 M757.3 459.3 L798.3 442.3" fill="none" stroke="#111" stroke-width="1.49" stroke-linejoin="round" stroke-linecap="round" />
<path d="M756.0 446.7 L794.0 430.9 M758.5 453.2 L796.5 437.4" fill="none" stroke="#111" stroke-width="1.15" stroke-linejoin="round" stroke-linecap="round" />
<g clip-path="url(#hole)">
<path d="M678.4 453.1 L719.4 436.1 L740.6 486.9 L699.6 503.9 Z" fill="#fff" stroke="none" stroke-width="1.49" stroke-linejoin="round" stroke-linecap="round" />
<path d="M678.4 453.1 L719.4 436.1 M699.6 503.9 L740.6 486.9" fill="none" stroke="#111" stroke-width="1.49" stroke-linejoin="round" stroke-linecap="round" />
</g>
<ellipse cx="688.6" cy="476.6" rx="19.0" ry="27.5" transform="rotate(-18 688.6 476.6)" fill="#fff" stroke="#111" stroke-width="1.49" />
<ellipse cx="690.6" cy="476.1" rx="9.5" ry="15.5" transform="rotate(-18 690.6 476.1)" fill="#fff" stroke="#111" stroke-width="1.38" />
<path d="M635.2 487.4 L686.2 466.2 L695.8 489.2 L644.8 510.5 Z" fill="#fff" stroke="none" stroke-width="1.49" stroke-linejoin="round" stroke-linecap="round" />
<path d="M635.2 487.4 L686.2 466.2 M644.8 510.5 L695.8 489.2" fill="none" stroke="#111" stroke-width="1.49" stroke-linejoin="round" stroke-linecap="round" />
<path d="M686.2 466.2 L687.1 465.9 L688.1 466.0 L689.2 466.4 L690.4 467.0 L691.5 467.9 L692.7 469.1 L693.8 470.4 L694.8 471.9 L695.7 473.6 L696.5 475.4 L697.2 477.2 L697.8 479.1 L698.1 480.9 L698.3 482.6 L698.3 484.2 L698.1 485.7 L697.8 486.9 L697.3 488.0 L696.6 488.7 L695.8 489.2" fill="none" stroke="#111" stroke-width="1.38" stroke-linejoin="round" stroke-linecap="round" />
<path d="M640 399 L622 369 L650 384 Q660 388 657 399 Q654 406 646 405 Z" fill="#fff" stroke="none" stroke-width="0.0" stroke-linejoin="round" stroke-linecap="round" />
<path d="M627 370 L650 384 Q660 388 657 399 Q654 407 645 405 Q640 403 640 399" fill="none" stroke="#111" stroke-width="1.61" stroke-linejoin="round" stroke-linecap="round" />
<ellipse cx="649.0" cy="396.0" rx="6.5" ry="8.5" transform="rotate(-22.6 649.0 396.0)" fill="#fff" stroke="#111" stroke-width="1.49" />
<ellipse cx="649.0" cy="396.0" rx="2.8" ry="3.8" transform="rotate(-22.6 649.0 396.0)" fill="#fff" stroke="#111" stroke-width="1.26" />
<ellipse cx="616.5" cy="507.8" rx="50.8" ry="77.8" transform="rotate(-22.6 616.5 507.8)" fill="#fff" stroke="#111" stroke-width="1.72" />
<ellipse cx="615.0" cy="508.4" rx="44.5" ry="71.0" transform="rotate(-22.6 615.0 508.4)" fill="#fff" stroke="#111" stroke-width="1.38" />
<clipPath id="st"><ellipse cx="589.0" cy="516.5" rx="42.0" ry="72.0" transform="rotate(-20.0 589.0 516.5)"/></clipPath>
<ellipse cx="589.0" cy="516.5" rx="42.0" ry="72.0" transform="rotate(-20 589.0 516.5)" fill="#fff" stroke="#111" stroke-width="1.49" />
<g clip-path="url(#st)">
<path d="M628.5 502.1L594.6 583.9M632.1 514.1L586.5 580.2M634.5 526.1L578.5 574.5M635.5 537.9L570.8 567.1M635.1 549.0L563.6 558.1M633.2 559.1L557.3 547.9M630.1 567.9L551.8 536.7M625.6 575.2L547.5 524.9M620.1 580.6L544.5 512.9M613.6 584.2L542.8 500.9M606.4 585.6L542.5 489.5M598.6 585.0L543.7 478.8M590.6 582.3L546.2 469.3M582.5 577.6L550.0 461.3M574.6 571.0L555.0 454.9M567.1 562.8L561.0 450.4M560.3 553.1L567.9 447.8M554.4 542.4L575.4 447.4M549.5 530.9L583.4 449.1M545.9 518.9L591.5 452.8M543.5 506.9L599.5 458.5M542.5 495.1L607.2 465.9M542.9 484.0L614.4 474.9M544.8 473.9L620.7 485.1M547.9 465.1L626.2 496.3M552.4 457.8L630.5 508.1M557.9 452.4L633.5 520.1M564.4 448.8L635.2 532.1M571.6 447.4L635.5 543.5M579.4 448.0L634.3 554.2M587.4 450.7L631.8 563.7M595.5 455.4L628.0 571.7M603.4 462.0L623.0 578.1M610.9 470.2L617.0 582.6M617.7 479.9L610.1 585.2M623.6 490.6L602.6 585.6" fill="none" stroke="#111" stroke-width="1.03" stroke-linejoin="round" stroke-linecap="round" />
<ellipse cx="589.0" cy="516.5" rx="38.6" ry="66.2" transform="rotate(-20 589.0 516.5)" fill="none" stroke="#111" stroke-width="1.03" />
<ellipse cx="589.0" cy="516.5" rx="34.4" ry="59.0" transform="rotate(-20 589.0 516.5)" fill="none" stroke="#111" stroke-width="1.03" />
</g>
<path d="M575.1 445.6 L577.4 444.0 L580.0 442.9 L582.7 442.3 L585.5 442.2 L588.5 442.7 L591.6 443.6 L594.7 445.0 L597.9 447.0 L601.1 449.4 L604.3 452.2 L607.6 455.5 L610.7 459.2 L613.8 463.3 L616.8 467.8 L619.7 472.5 L622.4 477.6 L625.0 482.8 L627.4 488.3 L629.7 494.0 L631.7 499.7 L633.4 505.6 L635.0 511.4 L636.2 517.3 L637.2 523.1 L638.0 528.8 L638.4 534.3 L638.6 539.7 L638.5 544.8 L638.1 549.7 L637.5 554.2 L636.6 558.4 L635.4 562.3 L633.9 565.7 L632.2 568.7 L630.3 571.3 L628.1 573.4 L625.8 575.0 L623.2 576.1 L620.5 576.7" fill="none" stroke="#111" stroke-width="1.49" stroke-linejoin="round" stroke-linecap="round" />
<path d="M574.4 446.2L597.5 453.4L600.9 451.1L577.7 443.9ZM580.7 442.7L603.9 449.9L607.9 449.4L584.7 442.2ZM588.1 442.6L611.2 449.7L615.6 450.9L592.6 444.0ZM596.2 445.9L619.2 452.6L623.7 455.5L600.9 449.2ZM604.6 452.5L627.4 458.5L631.8 463.0L609.2 457.4ZM612.8 462.0L635.3 467.1L639.5 472.9L617.2 468.3ZM620.5 473.9L642.6 478.1L646.3 484.9L624.3 481.3ZM627.2 487.7L649.0 490.7L651.9 498.2L630.3 495.8ZM632.5 502.5L654.0 504.4L656.1 512.2L634.8 511.0ZM636.3 517.8L657.4 518.5L658.5 526.2L637.7 526.1ZM638.3 532.6L659.0 532.2L659.2 539.4L638.6 540.3ZM638.4 546.2L658.8 544.9L657.9 551.2L637.7 553.0ZM636.7 557.9L656.8 555.9L655.0 561.0L634.9 563.4ZM633.1 567.2L653.1 564.6L650.3 568.2L630.4 571.1Z" fill="#fff" stroke="#111" stroke-width="1.26" stroke-linejoin="round" stroke-linecap="round" />
<path d="M572.3 441.8L595.4 448.9L599.1 446.4L576.0 439.2ZM597.5 453.4L595.4 448.9M600.9 451.1L599.1 446.4M579.2 437.9L602.4 445.2L606.8 444.6L583.6 437.4ZM603.9 449.9L602.4 445.2M607.9 449.4L606.8 444.6M587.3 437.8L610.5 444.8L615.2 446.1L592.2 439.2ZM611.2 449.7L610.5 444.8M615.6 450.9L615.2 446.1M596.2 441.3L619.1 447.9L624.1 451.0L601.2 444.7ZM619.2 452.6L619.1 447.9M623.7 455.5L624.1 451.0M605.3 448.3L628.0 454.3L632.9 459.1L610.3 453.5ZM627.4 458.5L628.0 454.3M631.8 463.0L632.9 459.1M614.2 458.4L636.7 463.6L641.2 469.8L618.9 465.2ZM635.3 467.1L636.7 463.6M639.5 472.9L641.2 469.8M622.5 471.1L644.6 475.3L648.6 482.7L626.6 479.1ZM642.6 478.1L644.6 475.3M646.3 484.9L648.6 482.7M629.7 485.9L651.5 488.9L654.7 497.0L633.1 494.6ZM649.0 490.7L651.5 488.9M651.9 498.2L654.7 497.0M635.4 501.8L656.9 503.7L659.1 512.1L637.9 510.9ZM654.0 504.4L656.9 503.7M656.1 512.2L659.1 512.1M639.5 518.1L660.5 518.9L661.7 527.2L640.9 527.0ZM657.4 518.5L660.5 518.9M658.5 526.2L661.7 527.2M641.6 534.0L662.3 533.7L662.4 541.4L641.8 542.3ZM659.0 532.2L662.3 533.7M659.2 539.4L662.4 541.4M641.6 548.7L662.0 547.4L661.0 554.2L640.7 555.9ZM658.8 544.9L662.0 547.4M657.9 551.2L661.0 554.2M639.6 561.3L659.7 559.2L657.7 564.7L637.6 567.2ZM656.8 555.9L659.7 559.2M655.0 561.0L657.7 564.7M635.6 571.2L655.6 568.6L652.6 572.6L632.7 575.4ZM653.1 564.6L655.6 568.6M650.3 568.2L652.6 572.6" fill="#fff" stroke="#111" stroke-width="1.38" stroke-linejoin="round" stroke-linecap="round" />
<ellipse cx="567.6" cy="530.5" rx="39.8" ry="64.5" transform="rotate(-21.7 567.6 530.5)" fill="#fff" stroke="#111" stroke-width="1.72" />
<ellipse cx="569.1" cy="530.2" rx="35.5" ry="59.0" transform="rotate(-21.7 569.1 530.2)" fill="#fff" stroke="#111" stroke-width="1.38" />
<ellipse cx="569.6" cy="530.0" rx="30.5" ry="51.5" transform="rotate(-21.7 569.6 530.0)" fill="#fff" stroke="#111" stroke-width="1.49" />
<clipPath id="fr"><ellipse cx="569.6" cy="530.0" rx="30.5" ry="51.5" transform="rotate(-21.7 569.6 530.0)"/></clipPath>
<g clip-path="url(#fr)">
<ellipse cx="576.6" cy="527.0" rx="30.5" ry="51.5" transform="rotate(-21.7 576.6 527.0)" fill="none" stroke="#111" stroke-width="1.26" />
<path d="M596.8 522.3l3 2l-2 3l3 1l-3 2M599.9 541.2l3 2l-2 3l3 1l-3 2M597.2 557.1l3 2l-2 3l3 1l-3 2M589.2 566.8l3 2l-2 3l3 1l-3 2M577.6 568.5l3 2l-2 3l3 1l-3 2M564.5 561.8l3 2l-2 3l3 1l-3 2M552.7 547.9l3 2l-2 3l3 1l-3 2M544.4 529.8l3 2l-2 3l3 1l-3 2M541.3 510.9l3 2l-2 3l3 1l-3 2M544.0 495.0l3 2l-2 3l3 1l-3 2M551.9 485.2l3 2l-2 3l3 1l-3 2M563.6 483.5l3 2l-2 3l3 1l-3 2M576.6 490.2l3 2l-2 3l3 1l-3 2M588.5 504.0l3 2l-2 3l3 1l-3 2" fill="none" stroke="#111" stroke-width="1.03" stroke-linejoin="round" stroke-linecap="round" />
</g>
<ellipse cx="568.5" cy="531.3" rx="26.0" ry="36.5" transform="rotate(-18 568.5 531.3)" fill="#fff" stroke="#111" stroke-width="1.49" />
<ellipse cx="563.7" cy="533.0" rx="23.1" ry="34.0" transform="rotate(-18 563.7 533.0)" fill="#fff" stroke="#111" stroke-width="1.49" />
<ellipse cx="561.5" cy="534.0" rx="17.0" ry="25.0" transform="rotate(-18 561.5 534.0)" fill="#fff" stroke="#111" stroke-width="1.26" />
<path d="M531.0 532.9 L559.0 521.3 L567.0 540.6 L539.0 552.3 Z" fill="#fff" stroke="none" stroke-width="1.49" stroke-linejoin="round" stroke-linecap="round" />
<path d="M531.0 532.9 L559.0 521.3 M539.0 552.3 L567.0 540.6" fill="none" stroke="#111" stroke-width="1.49" stroke-linejoin="round" stroke-linecap="round" />
<path d="M559.2 523.7 L560.2 523.5 L561.2 523.5 L562.2 523.9 L563.3 524.4 L564.3 525.2 L565.3 526.3 L566.3 527.5 L567.2 528.9 L568.0 530.4 L568.6 531.9 L569.2 533.6 L569.5 535.2 L569.7 536.9 L569.8 538.4 L569.6 539.9 L569.4 541.2 L568.9 542.3 L568.3 543.2 L567.6 543.9 L566.8 544.3" fill="none" stroke="#111" stroke-width="1.38" stroke-linejoin="round" stroke-linecap="round" />
<path d="M550.6 541.2 L551.5 541.2 L551.9 542.2 L551.1 542.7 L551.4 543.7 L552.4 543.8 L552.6 544.8 L551.8 545.2 L552.0 546.2 L553.0 546.5 L553.2 547.5 L552.3 547.8 L552.4 548.7 L553.4 549.2 L553.5 550.2 L552.6 550.3 L552.7 551.3 L553.7 551.8 L553.7 552.8 L552.7 552.8 L552.7 553.8 L553.7 554.4 L553.6 555.4 L552.6 555.3 L552.6 556.2 L553.5 557.0 L553.3 557.9 L552.4 557.6 L552.2 558.5 L553.1 559.4 L552.9 560.3 L551.9 559.9 L551.7 560.7 L552.5 561.7 L552.2 562.5 L551.2 561.9 L550.9 562.7 L551.7 563.8 L551.3 564.5 L550.4 563.9 L550.0 564.6 L550.7 565.7 L550.3 566.4 L549.3 565.6 L548.9 566.2 L549.5 567.4 L549.0 568.0 L548.1 567.2 L547.7 567.7 L548.2 568.9 L547.6 569.5 L546.8 568.5 L546.3 568.9 L546.7 570.2 L546.1 570.6 L545.3 569.6 L544.7 569.9 L545.1 571.2 L544.4 571.5 L543.7 570.4 L543.1 570.7 L543.4 572.0 L542.7 572.2 L542.0 571.0 L541.4 571.1 L541.5 572.5 L540.8 572.6 L540.3 571.3 L539.6 571.4 L539.6 572.6 L538.9 572.6 L538.4 571.4 L537.7 571.3 L537.7 572.6 L536.9 572.5 L536.6 571.1 L535.8 571.0 L535.7 572.2 L534.9 572.0 L534.6 570.7 L533.9 570.4 L533.7 571.6 L532.9 571.2 L532.7 569.9 L532.0 569.6 L531.7 570.6 L530.9 570.2 L530.9 568.9 L530.1 568.5 L529.7 569.5 L528.9 569.0 L529.0 567.7 L528.3 567.2 L527.8 568.1 L527.1 567.5 L527.2 566.2 L526.6 565.6 L525.9 566.4 L525.3 565.7 L525.5 564.6 L524.9 563.9 L524.2 564.5 L523.5 563.8 L523.9 562.7 L523.3 562.0 L522.5 562.5 L522.0 561.7 L522.4 560.7 L521.9 559.9 L521.0 560.3 L520.5 559.4 L521.1 558.5 L520.6 557.6 L519.7 557.9 L519.2 557.0 L519.8 556.2 L519.4 555.3 L518.5 555.4 L518.1 554.5 L518.8 553.8 L518.4 552.8 L517.5 552.8 L517.1 551.8 L517.9 551.3 L517.6 550.3 L516.6 550.2 L516.4 549.2 L517.2 548.8 L517.0 547.8 L516.0 547.5 L515.8 546.5 L516.7 546.2 L516.6 545.3 L515.6 544.8 L515.5 543.8 L516.4 543.7 L516.3 542.7 L515.3 542.2 L515.3 541.2 L516.3 541.2 L516.3 540.2 L515.3 539.6 L515.4 538.6 L516.4 538.7 L516.4 537.8 L515.5 537.0 L515.7 536.1 L516.6 536.4 L516.8 535.5 L515.9 534.6 L516.1 533.7 L517.1 534.1 L517.3 533.3 L516.5 532.3 L516.8 531.5 L517.8 532.1 L518.1 531.3 L517.3 530.2 L517.7 529.5 L518.6 530.1 L519.0 529.4 L518.3 528.3 L518.7 527.6 L519.7 528.4 L520.1 527.8 L519.5 526.6 L520.0 526.0 L520.9 526.8 L521.3 526.3 L520.8 525.1 L521.4 524.5 L522.2 525.5 L522.7 525.1 L522.3 523.8 L522.9 523.4 L523.7 524.4 L524.3 524.1 L523.9 522.8 L524.6 522.5 L525.3 523.6 L525.9 523.3 L525.6 522.0 L526.3 521.8 L527.0 523.0 L527.6 522.9 L527.5 521.5 L528.2 521.4 L528.7 522.7 L529.4 522.6 L529.4 521.4 L530.1 521.4 L530.6 522.6 L531.3 522.7 L531.3 521.4 L532.1 521.5 L532.4 522.9 L533.2 523.0 L533.3 521.8 L534.1 522.0 L534.4 523.3 L535.1 523.6 L535.3 522.4 L536.1 522.8 L536.3 524.1 L537.0 524.4 L537.3 523.4 L538.1 523.8 L538.1 525.1 L538.9 525.5 L539.3 524.5 L540.1 525.0 L540.0 526.3 L540.7 526.8 L541.2 525.9 L541.9 526.5 L541.8 527.8 L542.4 528.4 L543.1 527.6 L543.7 528.3 L543.5 529.4 L544.1 530.1 L544.8 529.5 L545.5 530.2 L545.1 531.3 L545.7 532.0 L546.5 531.5 L547.0 532.3 L546.6 533.3 L547.1 534.1 L548.0 533.7 L548.5 534.6 L547.9 535.5 L548.4 536.4 L549.3 536.1 L549.8 537.0 L549.2 537.8 L549.6 538.7 L550.5 538.6 L550.9 539.5 L550.2 540.2 Z" fill="#fff" stroke="#111" stroke-width="1.03" stroke-linejoin="round" stroke-linecap="round" />
<path d="M550.6 541.2L545.1 543.4M551.9 542.2L546.4 544.4M551.4 543.7L545.9 545.9M552.6 544.8L547.1 547.0M552.0 546.2L546.5 548.4M553.2 547.5L547.7 549.7M552.4 548.7L546.9 550.9M553.5 550.2L548.0 552.4M552.7 551.3L547.2 553.5M553.7 552.8L548.2 555.0M552.7 553.8L547.2 556.0M553.6 555.4L548.1 557.6M552.6 556.2L547.1 558.4M553.3 557.9L547.8 560.1M552.2 558.5L546.7 560.7M552.9 560.3L547.4 562.5M551.7 560.7L546.2 562.9M552.2 562.5L546.7 564.7M550.9 562.7L545.4 564.9M551.3 564.5L545.8 566.7M550.0 564.6L544.5 566.8M550.3 566.4L544.8 568.6M548.9 566.2L543.4 568.4M549.0 568.0L543.5 570.2M547.7 567.7L542.2 569.9M547.6 569.5L542.1 571.7M546.3 568.9L540.8 571.1M546.1 570.6L540.6 572.8M544.7 569.9L539.2 572.1M544.4 571.5L538.9 573.7M543.1 570.7L537.6 572.9M542.7 572.2L537.2 574.4M541.4 571.1L535.9 573.3M540.8 572.6L535.3 574.8M539.6 571.4L534.1 573.6M538.9 572.6L533.4 574.8M537.7 571.3L532.2 573.5M536.9 572.5L531.4 574.7M535.8 571.0L530.3 573.2M534.9 572.0L529.4 574.2M533.9 570.4L528.4 572.6M532.9 571.2L527.4 573.4M532.0 569.6L526.5 571.8M530.9 570.2L525.4 572.4M530.1 568.5L524.6 570.7M528.9 569.0L523.4 571.2M528.3 567.2L522.8 569.4M527.1 567.5L521.6 569.7M526.6 565.6L521.1 567.8M525.3 565.7L519.8 567.9M524.9 563.9L519.4 566.1M523.5 563.8L518.0 566.0M523.3 562.0L517.8 564.2M522.0 561.7L516.5 563.9M521.9 559.9L516.4 562.1M520.5 559.4L515.0 561.6M520.6 557.6L515.1 559.8M519.2 557.0L513.7 559.2M519.4 555.3L513.9 557.5M518.1 554.5L512.6 556.7M518.4 552.8L512.9 555.0M517.1 551.8L511.6 554.0M517.6 550.3L512.1 552.5M516.4 549.2L510.9 551.4M517.0 547.8L511.5 550.0M515.8 546.5L510.3 548.7M516.6 545.3L511.1 547.5M515.5 543.8L510.0 546.0M516.3 542.7L510.8 544.9M515.3 541.2L509.8 543.4M516.3 540.2L510.8 542.4M515.4 538.6L509.9 540.8M516.4 537.8L510.9 540.0M515.7 536.1L510.2 538.3M516.8 535.5L511.3 537.7M516.1 533.7L510.6 535.9M517.3 533.3L511.8 535.5M516.8 531.5L511.3 533.7M518.1 531.3L512.6 533.5M517.7 529.5L512.2 531.7M519.0 529.4L513.5 531.6M518.7 527.6L513.2 529.8M520.1 527.8L514.6 530.0M520.0 526.0L514.5 528.2M521.3 526.3L515.8 528.5M521.4 524.5L515.9 526.7M522.7 525.1L517.2 527.3M522.9 523.4L517.4 525.6M524.3 524.1L518.8 526.3M524.6 522.5L519.1 524.7M525.9 523.3L520.4 525.5M526.3 521.8L520.8 524.0M527.6 522.9L522.1 525.1M528.2 521.4L522.7 523.6M529.4 522.6L523.9 524.8M530.1 521.4L524.6 523.6M531.3 522.7L525.8 524.9M532.1 521.5L526.6 523.7M533.2 523.0L527.7 525.2M534.1 522.0L528.6 524.2M535.1 523.6L529.6 525.8M536.1 522.8L530.6 525.0M537.0 524.4L531.5 526.6M538.1 523.8L532.6 526.0M538.9 525.5L533.4 527.7M540.1 525.0L534.6 527.2M540.7 526.8L535.2 529.0M541.9 526.5L536.4 528.7M542.4 528.4L536.9 530.6M543.7 528.3L538.2 530.5M544.1 530.1L538.6 532.3M545.5 530.2L540.0 532.4M545.7 532.0L540.2 534.2M547.0 532.3L541.5 534.5M547.1 534.1L541.6 536.3M548.5 534.6L543.0 536.8M548.4 536.4L542.9 538.6M549.8 537.0L544.3 539.2M549.6 538.7L544.1 540.9M550.9 539.5L545.4 541.7" fill="none" stroke="#111" stroke-width="0.8" stroke-linejoin="round" stroke-linecap="round" />
<ellipse cx="528.7" cy="549.2" rx="17.0" ry="25.5" transform="rotate(-20 528.7 549.2)" fill="#fff" stroke="#111" stroke-width="1.49" />
<ellipse cx="528.7" cy="549.2" rx="12.5" ry="18.5" transform="rotate(-20 528.7 549.2)" fill="#fff" stroke="#111" stroke-width="1.26" />
<ellipse cx="527.7" cy="549.6" rx="8.5" ry="12.5" transform="rotate(-20 527.7 549.6)" fill="#fff" stroke="#111" stroke-width="1.38" />
<ellipse cx="527.2" cy="549.8" rx="5.5" ry="8.0" transform="rotate(-20 527.2 549.8)" fill="#fff" stroke="#111" stroke-width="1.15" />
<path d="M511.8 546.1 L524.8 540.7 L529.2 551.2 L516.2 556.6 Z" fill="#fff" stroke="none" stroke-width="1.49" stroke-linejoin="round" stroke-linecap="round" />
<path d="M511.8 546.1 L524.8 540.7 M516.2 556.6 L529.2 551.2" fill="none" stroke="#111" stroke-width="1.49" stroke-linejoin="round" stroke-linecap="round" />
<ellipse cx="514.5" cy="556.0" rx="3.2" ry="5.7" transform="rotate(-20 514.5 556.0)" fill="#fff" stroke="#111" stroke-width="1.26" />
<path d="M789 389 L765 365.5 Q762 360 766 356 L777 347.5 Q781 345.5 785 349.5 L809 389 Z" fill="#fff" stroke="#111" stroke-width="1.61" stroke-linejoin="round" stroke-linecap="round" />
<path d="M819.5 390 L808.5 334.5 Q808 328 813 330 L828 338.5 Q835.5 343 835 350 L831 397 Z" fill="#fff" stroke="#111" stroke-width="1.61" stroke-linejoin="round" stroke-linecap="round" />
<path d="M836.5 401.5 L861.5 366 Q866 361 870 366 L884.5 394 Q886 399.5 882 402 L854 418.5 L853 422 L840 418 Z" fill="#fff" stroke="#111" stroke-width="1.61" stroke-linejoin="round" stroke-linecap="round" />
<path d="M843.5 421.5 L887.5 438.5 Q896.5 443 895 451 L887 465 Q884 468.5 879 464 L842 434 Z" fill="#fff" stroke="#111" stroke-width="1.61" stroke-linejoin="round" stroke-linecap="round" />
<path d="M838 445 L866 492 Q868 498 862 498.5 L850 499 Q846 498.5 844 494 L830 458 Z" fill="#fff" stroke="#111" stroke-width="1.61" stroke-linejoin="round" stroke-linecap="round" />
<path d="M788 466 L802.5 481.5 Q805 483 806 479 L810 468 Z" fill="#fff" stroke="#111" stroke-width="1.61" stroke-linejoin="round" stroke-linecap="round" />
<path d="M854 412 L884 396.5" fill="none" stroke="#111" stroke-width="1.26" stroke-linejoin="round" stroke-linecap="round" />
<ellipse cx="832.0" cy="416.0" rx="16.0" ry="27.0" transform="rotate(-10 832.0 416.0)" fill="#fff" stroke="#111" stroke-width="1.49" />
<ellipse cx="817.0" cy="423.0" rx="24.0" ry="35.5" transform="rotate(-10 817.0 423.0)" fill="#fff" stroke="#111" stroke-width="1.49" />
<path d="M780.7 389.3 L782.6 388.5 L784.6 388.0 L786.7 387.7 L788.8 387.7 L790.9 387.9 L793.0 388.3 L795.1 389.0 L797.2 390.0 L799.3 391.2 L801.3 392.6 L803.3 394.2 L805.2 396.1 L807.0 398.1 L808.8 400.3 L810.4 402.7 L811.9 405.3 L813.3 408.0 L814.6 410.8 L815.7 413.7 L816.7 416.8 L817.5 419.8 L818.2 423.0 L818.7 426.2 L819.0 429.4 L819.2 432.5 L819.2 435.7 L819.1 438.8 L818.8 441.9 L818.3 444.8 L817.7 447.7 L816.9 450.4 L815.9 453.0 L814.8 455.5 L813.6 457.8 L812.2 459.9 L810.7 461.8 L809.1 463.5 L807.4 465.0 L805.6 466.2 L803.7 467.3 L827.2 456.7 L828.9 455.8 L830.5 454.7 L832.1 453.4 L833.5 451.9 L834.9 450.2 L836.1 448.4 L837.3 446.4 L838.3 444.3 L839.2 442.0 L839.9 439.6 L840.5 437.2 L840.9 434.6 L841.3 431.9 L841.4 429.2 L841.4 426.5 L841.3 423.7 L841.0 421.0 L840.5 418.2 L839.9 415.5 L839.2 412.8 L838.3 410.2 L837.3 407.7 L836.2 405.2 L835.0 402.9 L833.6 400.7 L832.2 398.6 L830.6 396.7 L829.0 395.0 L827.3 393.4 L825.5 392.0 L823.7 390.8 L821.8 389.8 L819.9 388.9 L818.0 388.3 L816.1 388.0 L814.2 387.8 L812.3 387.9 L810.4 388.1 L808.6 388.6 L806.8 389.3 Z" fill="#fff" stroke="none" stroke-width="1.38" stroke-linejoin="round" stroke-linecap="round" />
<path d="M805.3 390.1 L807.1 389.2 L809.0 388.5 L810.9 388.0 L812.8 387.8 L814.8 387.8 L816.8 388.1 L818.8 388.6 L820.8 389.3 L822.8 390.2 L824.7 391.4 L826.6 392.8 L828.4 394.4 L830.1 396.1 L831.8 398.1 L833.3 400.2 L834.7 402.5 L836.1 404.9 L837.2 407.5 L838.3 410.1 L839.2 412.8 L840.0 415.6 L840.6 418.5 L841.0 421.3 L841.3 424.2 L841.4 427.1 L841.4 430.0 L841.2 432.8 L840.8 435.5 L840.3 438.2 L839.6 440.7 L838.7 443.1 L837.8 445.4 L836.6 447.6 L835.4 449.6 L834.0 451.4 L832.5 453.0 L830.9 454.4 L829.2 455.6 L827.4 456.6 L825.6 457.3" fill="none" stroke="#111" stroke-width="1.49" stroke-linejoin="round" stroke-linecap="round" />
<path d="M786.8 389.4 L788.6 388.4 L790.5 387.7 L792.5 387.1 L794.6 386.9 L796.6 386.9 L798.7 387.1 L800.8 387.6 L802.9 388.3 L804.9 389.2 L806.9 390.4 L808.9 391.8 L810.8 393.4 L812.7 395.2 L814.5 397.2 L816.2 399.4 L817.7 401.8 L819.2 404.3 L820.6 407.0 L821.8 409.7 L822.9 412.6 L823.8 415.5 L824.6 418.6 L825.2 421.6 L825.7 424.7 L826.1 427.9 L826.2 431.0 L826.2 434.0 L826.0 437.1 L825.7 440.0 L825.2 442.9 L824.6 445.7 L823.8 448.4 L822.8 450.9 L821.7 453.3 L820.5 455.5 L819.2 457.5 L817.7 459.4 L816.1 461.0 L814.4 462.4 L812.6 463.6" fill="none" stroke="#111" stroke-width="1.26" stroke-linejoin="round" stroke-linecap="round" />
<path d="M785.3 388.7 L787.1 388.0 L789.0 387.4 L791.0 387.1 L793.0 387.1 L795.0 387.2 L797.0 387.6 L799.0 388.2 L801.0 389.0 L803.0 390.0 L804.9 391.3 L806.8 392.7 L808.6 394.4 L810.4 396.2 L812.1 398.2 L813.7 400.4 L815.2 402.7 L816.6 405.1 L817.9 407.7 L819.1 410.4 L820.1 413.2 L821.0 416.1 L821.8 419.0 L822.5 422.0 L823.0 425.0 L823.3 428.0 L823.5 431.0 L823.5 434.0 L823.4 437.0 L823.2 439.9 L822.8 442.7 L822.2 445.4 L821.5 448.1 L820.7 450.6 L819.7 453.0 L818.6 455.2 L817.4 457.3 L816.1 459.3 L814.6 461.0 L813.1 462.6 L811.4 463.9" fill="none" stroke="#111" stroke-width="1.72" stroke-linejoin="round" stroke-linecap="round" stroke-dasharray="6 4"/>
<path d="M780.7 389.3L806.8 389.3M803.7 467.3L827.2 456.7" fill="none" stroke="#111" stroke-width="1.49" stroke-linejoin="round" stroke-linecap="round" />
<ellipse cx="792.2" cy="428.3" rx="26.5" ry="41.0" transform="rotate(-10 792.2 428.3)" fill="#fff" stroke="#111" stroke-width="1.61" />
<ellipse cx="789.2" cy="433.8" rx="9.5" ry="14.0" transform="rotate(-10 789.2 433.8)" fill="#fff" stroke="#111" stroke-width="1.38" />
<ellipse cx="790.7" cy="433.3" rx="6.5" ry="10.0" transform="rotate(-10 790.7 433.3)" fill="#fff" stroke="#111" stroke-width="1.26" />
<path d="M854 346.5 Q852.5 344.5 856 345 Q876 351 892 374.5 Q907 398 907.5 420 Q906.5 427.5 904.5 424 Q902 404 893 391 Q880 367 856.5 351 Z" fill="#fff" stroke="#111" stroke-width="1.38" stroke-linejoin="round" stroke-linecap="round" />
<path d="M761.7 439.1 L789.7 427.4 L796.3 443.1 L768.3 454.8 Z" fill="#fff" stroke="none" stroke-width="1.49" stroke-linejoin="round" stroke-linecap="round" />
<path d="M761.7 439.1 L789.7 427.4 M768.3 454.8 L796.3 443.1" fill="none" stroke="#111" stroke-width="1.49" stroke-linejoin="round" stroke-linecap="round" />
<path d="M764.0 443.4 L792.0 431.8 M766.5 449.9 L794.5 438.3" fill="none" stroke="#111" stroke-width="1.15" stroke-linejoin="round" stroke-linecap="round" />
<path d="M540.6 637.1 L543.4 639.2 L542.1 642.2 L538.8 641.2 L537.5 643.7 L539.6 646.9 L537.8 649.5 L535.1 647.3 L533.4 649.4 L534.7 653.4 L532.6 655.5 L530.5 652.3 L528.6 653.8 L528.9 658.4 L526.6 659.8 L525.4 655.8 L523.4 656.7 L522.8 661.5 L520.4 662.2 L520.1 657.5 L518.1 657.7 L516.6 662.5 L514.3 662.3 L515.0 657.5 L513.2 656.9 L510.9 661.3 L508.9 660.3 L510.5 655.6 L508.9 654.4 L505.9 658.1 L504.4 656.3 L506.7 651.9 L505.6 650.2 L502.2 652.9 L501.1 650.5 L504.1 646.9 L503.4 644.6 L499.8 646.3 L499.3 643.4 L502.7 640.7 L502.6 638.2 L499.0 638.5 L499.1 635.4 L502.7 633.8 L503.1 631.1 L499.8 630.2 L500.6 627.1 L504.1 626.8 L505.0 624.1 L502.2 622.0 L503.5 619.0 L506.8 619.9 L508.1 617.5 L506.0 614.3 L507.8 611.7 L510.5 613.8 L512.2 611.8 L510.9 607.8 L513.0 605.7 L515.1 608.9 L517.0 607.4 L516.7 602.8 L519.0 601.3 L520.2 605.4 L522.2 604.5 L522.8 599.7 L525.2 599.0 L525.5 603.6 L527.5 603.5 L529.0 598.7 L531.3 598.8 L530.6 603.7 L532.4 604.2 L534.7 599.8 L536.7 600.8 L535.1 605.6 L536.7 606.8 L539.7 603.1 L541.2 604.9 L538.9 609.2 L540.0 611.0 L543.4 608.3 L544.5 610.6 L541.5 614.3 L542.2 616.5 L545.8 614.9 L546.3 617.8 L542.9 620.5 L543.0 623.0 L546.6 622.7 L546.5 625.8 L542.9 627.3 L542.5 630.0 L545.8 630.9 L545.1 634.1 L541.5 634.4 Z" fill="#fff" stroke="#111" stroke-width="1.38" stroke-linejoin="round" stroke-linecap="round" />
<path d="M545.3 638.8L540.6 637.1M548.1 640.9L543.4 639.2M546.8 643.9L542.1 642.2M543.5 643.0L538.8 641.2M542.2 645.4L537.5 643.7M544.3 648.6L539.6 646.9M542.5 651.2L537.8 649.5M539.8 649.1L535.1 647.3M538.1 651.1L533.4 649.4M539.4 655.1L534.7 653.4M537.3 657.2L532.6 655.5M535.2 654.0L530.5 652.3M533.3 655.5L528.6 653.8M533.6 660.1L528.9 658.4M531.3 661.5L526.6 659.8M530.1 657.5L525.4 655.8M528.1 658.4L523.4 656.7M527.5 663.2L522.8 661.5M525.1 663.9L520.4 662.2M524.8 659.2L520.1 657.5M522.8 659.4L518.1 657.7M521.3 664.2L516.6 662.5M519.0 664.0L514.3 662.3M519.7 659.2L515.0 657.5M517.9 658.7L513.2 656.9M515.6 663.1L510.9 661.3M513.6 662.0L508.9 660.3M515.2 657.3L510.5 655.6M513.6 656.1L508.9 654.4M510.6 659.8L505.9 658.1M509.1 658.0L504.4 656.3M511.4 653.7L506.7 651.9M510.3 651.9L505.6 650.2M506.9 654.6L502.2 652.9M505.8 652.3L501.1 650.5M508.8 648.6L504.1 646.9M508.1 646.4L503.4 644.6M504.5 648.0L499.8 646.3M504.0 645.1L499.3 643.4M507.4 642.4L502.7 640.7M507.3 639.9L502.6 638.2M503.7 640.2L499.0 638.5M503.8 637.1L499.1 635.4M507.4 635.6L502.7 633.8M507.8 632.9L503.1 631.1M504.5 632.0L499.8 630.2M505.3 628.8L500.6 627.1M508.8 628.5L504.1 626.8M509.7 625.8L505.0 624.1M506.9 623.7L502.2 622.0M508.2 620.7L503.5 619.0M511.5 621.6L506.8 619.9M512.8 619.2L508.1 617.5M510.7 616.0L506.0 614.3M512.5 613.4L507.8 611.7M515.2 615.5L510.5 613.8M516.9 613.5L512.2 611.8M515.6 609.5L510.9 607.8M517.7 607.4L513.0 605.7M519.8 610.6L515.1 608.9M521.7 609.1L517.0 607.4M521.4 604.5L516.7 602.8M523.7 603.1L519.0 601.3M524.9 607.1L520.2 605.4M526.9 606.2L522.2 604.5M527.5 601.4L522.8 599.7M529.9 600.7L525.2 599.0M530.2 605.4L525.5 603.6M532.2 605.2L527.5 603.5M533.7 600.4L529.0 598.7M536.0 600.6L531.3 598.8M535.3 605.4L530.6 603.7M537.1 605.9L532.4 604.2M539.4 601.5L534.7 599.8M541.4 602.6L536.7 600.8M539.8 607.3L535.1 605.6M541.4 608.5L536.7 606.8M544.4 604.8L539.7 603.1M545.9 606.6L541.2 604.9M543.6 610.9L538.9 609.2M544.7 612.7L540.0 611.0M548.1 610.0L543.4 608.3M549.2 612.3L544.5 610.6M546.2 616.0L541.5 614.3M546.9 618.2L542.2 616.5M550.5 616.6L545.8 614.9M551.0 619.5L546.3 617.8M547.6 622.2L542.9 620.5M547.7 624.7L543.0 623.0M551.3 624.4L546.6 622.7M551.2 627.5L546.5 625.8M547.6 629.0L542.9 627.3M547.2 631.7L542.5 630.0M550.5 632.6L545.8 630.9M549.7 635.8L545.1 634.1M546.2 636.1L541.5 634.4" fill="none" stroke="#111" stroke-width="1.03" stroke-linejoin="round" stroke-linecap="round" />
<path d="M545.3 638.8 L548.1 640.9 L546.8 643.9 L543.5 643.0 L542.2 645.4 L544.3 648.6 L542.5 651.2 L539.8 649.1 L538.1 651.1 L539.4 655.1 L537.3 657.2 L535.2 654.0 L533.3 655.5 L533.6 660.1 L531.3 661.5 L530.1 657.5 L528.1 658.4 L527.5 663.2 L525.1 663.9 L524.8 659.2 L522.8 659.4 L521.3 664.2 L519.0 664.0 L519.7 659.2 L517.9 658.7 L515.6 663.1 L513.6 662.0 L515.2 657.3 L513.6 656.1 L510.6 659.8 L509.1 658.0 L511.4 653.7 L510.3 651.9 L506.9 654.6 L505.8 652.3 L508.8 648.6 L508.1 646.4 L504.5 648.0 L504.0 645.1 L507.4 642.4 L507.3 639.9 L503.7 640.2 L503.8 637.1 L507.4 635.6 L507.8 632.9 L504.5 632.0 L505.3 628.8 L508.8 628.5 L509.7 625.8 L506.9 623.7 L508.2 620.7 L511.5 621.6 L512.8 619.2 L510.7 616.0 L512.5 613.4 L515.2 615.5 L516.9 613.5 L515.6 609.5 L517.7 607.4 L519.8 610.6 L521.7 609.1 L521.4 604.5 L523.7 603.1 L524.9 607.1 L526.9 606.2 L527.5 601.4 L529.9 600.7 L530.2 605.4 L532.2 605.2 L533.7 600.4 L536.0 600.6 L535.3 605.4 L537.1 605.9 L539.4 601.5 L541.4 602.6 L539.8 607.3 L541.4 608.5 L544.4 604.8 L545.9 606.6 L543.6 610.9 L544.7 612.7 L548.1 610.0 L549.2 612.3 L546.2 616.0 L546.9 618.2 L550.5 616.6 L551.0 619.5 L547.6 622.2 L547.7 624.7 L551.3 624.4 L551.2 627.5 L547.6 629.0 L547.2 631.7 L550.5 632.6 L549.7 635.8 L546.2 636.1 Z" fill="#fff" stroke="#111" stroke-width="1.38" stroke-linejoin="round" stroke-linecap="round" />
<ellipse cx="527.5" cy="632.3" rx="15.6" ry="23.1" transform="rotate(20 527.5 632.3)" fill="#fff" stroke="#111" stroke-width="1.38" />
<ellipse cx="527.5" cy="632.3" rx="11.2" ry="16.5" transform="rotate(20 527.5 632.3)" fill="#fff" stroke="#111" stroke-width="1.38" />
<ellipse cx="527.5" cy="632.3" rx="6.7" ry="9.9" transform="rotate(20 527.5 632.3)" fill="#fff" stroke="#111" stroke-width="1.38" />
<ellipse cx="527.5" cy="632.3" rx="2.7" ry="4.0" transform="rotate(20 527.5 632.3)" fill="#fff" stroke="#111" stroke-width="1.38" />
<path d="M542.2 589.9 L543.7 591.2 L542.6 593.6 L540.8 593.2 L539.6 595.1 L540.5 597.2 L539.0 599.1 L537.5 597.8 L536.1 599.2 L536.2 601.8 L534.4 603.1 L533.6 601.0 L532.0 601.7 L531.4 604.5 L529.6 604.9 L529.4 602.4 L527.9 602.4 L526.7 605.0 L525.0 604.5 L525.5 601.8 L524.2 601.0 L522.5 603.2 L521.2 601.9 L522.4 599.3 L521.5 597.9 L519.5 599.3 L518.7 597.4 L520.4 595.2 L520.0 593.3 L518.0 593.8 L517.8 591.4 L519.7 590.0 L519.9 587.9 L518.1 587.4 L518.5 584.9 L520.6 584.3 L521.2 582.2 L519.8 580.8 L520.9 578.4 L522.7 578.9 L523.9 577.0 L523.0 574.9 L524.5 572.9 L526.0 574.3 L527.4 572.9 L527.3 570.3 L529.1 569.0 L529.9 571.1 L531.5 570.3 L532.1 567.6 L533.9 567.1 L534.1 569.7 L535.6 569.7 L536.8 567.1 L538.5 567.5 L538.0 570.3 L539.3 571.0 L540.9 568.9 L542.3 570.2 L541.1 572.8 L542.0 574.2 L544.0 572.8 L544.8 574.7 L543.1 576.9 L543.5 578.7 L545.5 578.3 L545.7 580.6 L543.7 582.0 L543.6 584.2 L545.4 584.7 L544.9 587.2 L542.9 587.7 Z" fill="#fff" stroke="#111" stroke-width="1.38" stroke-linejoin="round" stroke-linecap="round" />
<path d="M546.0 591.2L542.2 589.9M547.4 592.6L543.7 591.2M546.4 595.0L542.6 593.6M544.5 594.6L540.8 593.2M543.4 596.4L539.6 595.1M544.2 598.6L540.5 597.2M542.7 600.5L539.0 599.1M541.3 599.2L537.5 597.8M539.8 600.6L536.1 599.2M540.0 603.2L536.2 601.8M538.2 604.4L534.4 603.1M537.3 602.3L533.6 601.0M535.7 603.1L532.0 601.7M535.2 605.9L531.4 604.5M533.3 606.3L529.6 604.9M533.2 603.7L529.4 602.4M531.6 603.7L527.9 602.4M530.4 606.3L526.7 605.0M528.8 605.9L525.0 604.5M529.3 603.1L525.5 601.8M528.0 602.4L524.2 601.0M526.3 604.5L522.5 603.2M525.0 603.3L521.2 601.9M526.1 600.7L522.4 599.3M525.2 599.3L521.5 597.9M523.3 600.6L519.5 599.3M522.5 598.7L518.7 597.4M524.1 596.6L520.4 595.2M523.7 594.7L520.0 593.3M521.7 595.2L518.0 593.8M521.6 592.8L517.8 591.4M523.5 591.4L519.7 590.0M523.6 589.3L519.9 587.9M521.8 588.8L518.1 587.4M522.3 586.2L518.5 584.9M524.3 585.7L520.6 584.3M525.0 583.6L521.2 582.2M523.6 582.2L519.8 580.8M524.6 579.8L520.9 578.4M526.5 580.2L522.7 578.9M527.6 578.4L523.9 577.0M526.8 576.2L523.0 574.9M528.3 574.3L524.5 572.9M529.7 575.6L526.0 574.3M531.2 574.2L527.4 572.9M531.0 571.6L527.3 570.3M532.8 570.4L529.1 569.0M533.7 572.5L529.9 571.1M535.3 571.7L531.5 570.3M535.8 568.9L532.1 567.6M537.7 568.5L533.9 567.1M537.8 571.1L534.1 569.7M539.4 571.1L535.6 569.7M540.6 568.5L536.8 567.1M542.2 568.9L538.5 567.5M541.7 571.7L538.0 570.3M543.0 572.4L539.3 571.0M544.7 570.3L540.9 568.9M546.0 571.5L542.3 570.2M544.9 574.1L541.1 572.8M545.8 575.5L542.0 574.2M547.7 574.2L544.0 572.8M548.5 576.1L544.8 574.7M546.9 578.2L543.1 576.9M547.3 580.1L543.5 578.7M549.3 579.6L545.5 578.3M549.4 582.0L545.7 580.6M547.5 583.4L543.7 582.0M547.4 585.5L543.6 584.2M549.2 586.0L545.4 584.7M548.7 588.6L544.9 587.2M546.7 589.1L542.9 587.7" fill="none" stroke="#111" stroke-width="1.03" stroke-linejoin="round" stroke-linecap="round" />
<path d="M546.0 591.2 L547.4 592.6 L546.4 595.0 L544.5 594.6 L543.4 596.4 L544.2 598.6 L542.7 600.5 L541.3 599.2 L539.8 600.6 L540.0 603.2 L538.2 604.4 L537.3 602.3 L535.7 603.1 L535.2 605.9 L533.3 606.3 L533.2 603.7 L531.6 603.7 L530.4 606.3 L528.8 605.9 L529.3 603.1 L528.0 602.4 L526.3 604.5 L525.0 603.3 L526.1 600.7 L525.2 599.3 L523.3 600.6 L522.5 598.7 L524.1 596.6 L523.7 594.7 L521.7 595.2 L521.6 592.8 L523.5 591.4 L523.6 589.3 L521.8 588.8 L522.3 586.2 L524.3 585.7 L525.0 583.6 L523.6 582.2 L524.6 579.8 L526.5 580.2 L527.6 578.4 L526.8 576.2 L528.3 574.3 L529.7 575.6 L531.2 574.2 L531.0 571.6 L532.8 570.4 L533.7 572.5 L535.3 571.7 L535.8 568.9 L537.7 568.5 L537.8 571.1 L539.4 571.1 L540.6 568.5 L542.2 568.9 L541.7 571.7 L543.0 572.4 L544.7 570.3 L546.0 571.5 L544.9 574.1 L545.8 575.5 L547.7 574.2 L548.5 576.1 L546.9 578.2 L547.3 580.1 L549.3 579.6 L549.4 582.0 L547.5 583.4 L547.4 585.5 L549.2 586.0 L548.7 588.6 L546.7 589.1 Z" fill="#fff" stroke="#111" stroke-width="1.38" stroke-linejoin="round" stroke-linecap="round" />
<ellipse cx="535.5" cy="587.4" rx="7.8" ry="11.8" transform="rotate(20 535.5 587.4)" fill="#fff" stroke="#111" stroke-width="1.38" />
<ellipse cx="535.5" cy="587.4" rx="5.2" ry="7.9" transform="rotate(20 535.5 587.4)" fill="#fff" stroke="#111" stroke-width="1.38" />
<ellipse cx="535.5" cy="587.4" rx="2.6" ry="3.9" transform="rotate(20 535.5 587.4)" fill="#fff" stroke="#111" stroke-width="1.38" />
<path d="M510.9 559.0 L514.0 558.7 L515.1 561.6 L512.4 563.0 L513.2 565.5 L516.6 566.4 L517.3 569.4 L514.1 569.6 L514.5 572.0 L518.0 574.1 L518.3 576.9 L514.9 576.0 L514.9 578.3 L518.4 581.3 L518.2 583.9 L514.7 581.8 L514.3 583.8 L517.5 587.8 L516.9 589.9 L513.5 586.8 L512.8 588.5 L515.6 593.1 L514.5 594.8 L511.3 590.8 L510.3 592.0 L512.6 597.0 L511.2 598.1 L508.4 593.5 L507.1 594.1 L508.7 599.4 L507.1 599.9 L504.8 594.8 L503.3 594.9 L504.2 600.1 L502.3 599.8 L500.8 594.6 L499.1 594.1 L499.2 599.0 L497.3 598.1 L496.4 593.0 L494.7 592.0 L494.0 596.2 L492.1 594.8 L492.0 589.9 L490.4 588.5 L488.9 591.9 L487.0 589.9 L487.8 585.7 L486.2 583.8 L484.1 586.3 L482.4 583.9 L483.9 580.5 L482.6 578.2 L479.8 579.7 L478.4 576.9 L480.6 574.5 L479.5 572.0 L476.4 572.3 L475.3 569.4 L478.0 568.0 L477.2 565.5 L473.8 564.6 L473.1 561.6 L476.3 561.4 L475.9 559.0 L472.4 556.9 L472.1 554.1 L475.5 555.1 L475.5 552.8 L472.0 549.7 L472.2 547.1 L475.8 549.2 L476.1 547.2 L472.9 543.2 L473.5 541.1 L477.0 544.2 L477.7 542.5 L474.8 537.9 L475.9 536.2 L479.1 540.2 L480.1 539.0 L477.8 534.0 L479.2 532.9 L482.0 537.5 L483.3 536.9 L481.7 531.6 L483.3 531.2 L485.6 536.2 L487.1 536.1 L486.2 531.0 L488.1 531.2 L489.6 536.4 L491.3 536.9 L491.2 532.0 L493.1 532.9 L494.0 538.0 L495.7 539.0 L496.4 534.8 L498.3 536.2 L498.4 541.1 L500.0 542.5 L501.5 539.1 L503.4 541.1 L502.6 545.3 L504.2 547.2 L506.3 544.7 L508.0 547.1 L506.5 550.6 L507.8 552.8 L510.6 551.4 L512.0 554.1 L509.8 556.6 Z" fill="#fff" stroke="#111" stroke-width="1.38" stroke-linejoin="round" stroke-linecap="round" />
<path d="M498.9 564.0L510.9 559.0M502.0 563.7L514.0 558.7M503.1 566.6L515.1 561.6M500.4 568.0L512.4 563.0M501.2 570.5L513.2 565.5M504.6 571.4L516.6 566.4M505.3 574.4L517.3 569.4M502.1 574.6L514.1 569.6M502.5 577.0L514.5 572.0M506.0 579.1L518.0 574.1M506.3 581.9L518.3 576.9M502.9 581.0L514.9 576.0M502.9 583.3L514.9 578.3M506.4 586.3L518.4 581.3M506.2 588.9L518.2 583.9M502.6 586.8L514.7 581.8M502.3 588.8L514.3 583.8M505.5 592.8L517.5 587.8M504.9 594.9L516.9 589.9M501.5 591.8L513.5 586.8M500.8 593.5L512.8 588.5M503.6 598.1L515.6 593.1M502.5 599.8L514.5 594.8M499.3 595.8L511.3 590.8M498.3 597.0L510.3 592.0M500.6 602.0L512.6 597.0M499.2 603.1L511.2 598.1M496.4 598.5L508.4 593.5M495.1 599.1L507.1 594.1M496.7 604.4L508.7 599.4M495.1 604.8L507.1 599.9M492.8 599.8L504.8 594.8M491.3 599.9L503.3 594.9M492.2 605.0L504.2 600.1M490.3 604.8L502.3 599.8M488.8 599.6L500.8 594.6M487.1 599.1L499.1 594.1M487.2 604.0L499.2 599.0M485.3 603.1L497.3 598.1M484.4 598.0L496.4 593.0M482.7 597.0L494.7 592.0M482.0 601.2L494.0 596.2M480.1 599.8L492.1 594.8M480.0 594.9L492.0 589.9M478.4 593.5L490.4 588.5M476.9 596.9L488.9 591.9M475.0 594.9L487.0 589.9M475.8 590.7L487.8 585.7M474.2 588.8L486.2 583.8M472.1 591.3L484.1 586.3M470.4 588.9L482.4 583.9M471.9 585.5L483.9 580.5M470.6 583.2L482.6 578.2M467.8 584.6L479.8 579.7M466.4 581.9L478.4 576.9M468.6 579.4L480.6 574.5M467.5 577.0L479.5 572.0M464.4 577.3L476.4 572.3M463.3 574.4L475.3 569.4M466.0 573.0L478.0 568.0M465.2 570.5L477.2 565.5M461.8 569.6L473.8 564.6M461.1 566.6L473.1 561.6M464.3 566.4L476.3 561.4M463.9 564.0L475.9 559.0M460.4 561.9L472.4 556.9M460.1 559.1L472.1 554.1M463.5 560.0L475.5 555.1M463.5 557.7L475.5 552.8M460.0 554.7L472.0 549.7M460.2 552.1L472.2 547.1M463.8 554.2L475.8 549.2M464.1 552.2L476.1 547.2M460.9 548.2L472.9 543.2M461.5 546.1L473.5 541.1M464.9 549.2L477.0 544.2M465.6 547.5L477.7 542.5M462.8 542.9L474.8 537.9M463.9 541.2L475.9 536.2M467.1 545.2L479.1 540.2M468.1 544.0L480.1 539.0M465.8 539.0L477.8 534.0M467.2 537.9L479.2 532.9M470.0 542.5L482.0 537.5M471.3 541.9L483.3 536.9M469.7 536.6L481.7 531.6M471.3 536.2L483.3 531.2M473.6 541.2L485.6 536.2M475.1 541.1L487.1 536.1M474.2 536.0L486.2 531.0M476.1 536.2L488.1 531.2M477.6 541.4L489.6 536.4M479.3 541.9L491.3 536.9M479.2 537.0L491.2 532.0M481.1 537.9L493.1 532.9M482.0 543.0L494.0 538.0M483.7 544.0L495.7 539.0M484.4 539.8L496.4 534.8M486.3 541.2L498.3 536.2M486.4 546.1L498.4 541.1M488.0 547.5L500.0 542.5M489.5 544.1L501.5 539.1M491.4 546.1L503.4 541.1M490.6 550.3L502.6 545.3M492.2 552.2L504.2 547.2M494.3 549.7L506.3 544.7M496.0 552.1L508.0 547.1M494.5 555.5L506.5 550.6M495.8 557.8L507.8 552.8M498.6 556.4L510.6 551.4M500.0 559.1L512.0 554.1M497.8 561.6L509.8 556.6" fill="none" stroke="#111" stroke-width="1.03" stroke-linejoin="round" stroke-linecap="round" />
<path d="M498.9 564.0 L502.0 563.7 L503.1 566.6 L500.4 568.0 L501.2 570.5 L504.6 571.4 L505.3 574.4 L502.1 574.6 L502.5 577.0 L506.0 579.1 L506.3 581.9 L502.9 581.0 L502.9 583.3 L506.4 586.3 L506.2 588.9 L502.6 586.8 L502.3 588.8 L505.5 592.8 L504.9 594.9 L501.5 591.8 L500.8 593.5 L503.6 598.1 L502.5 599.8 L499.3 595.8 L498.3 597.0 L500.6 602.0 L499.2 603.1 L496.4 598.5 L495.1 599.1 L496.7 604.4 L495.1 604.8 L492.8 599.8 L491.3 599.9 L492.2 605.0 L490.3 604.8 L488.8 599.6 L487.1 599.1 L487.2 604.0 L485.3 603.1 L484.4 598.0 L482.7 597.0 L482.0 601.2 L480.1 599.8 L480.0 594.9 L478.4 593.5 L476.9 596.9 L475.0 594.9 L475.8 590.7 L474.2 588.8 L472.1 591.3 L470.4 588.9 L471.9 585.5 L470.6 583.2 L467.8 584.6 L466.4 581.9 L468.6 579.4 L467.5 577.0 L464.4 577.3 L463.3 574.4 L466.0 573.0 L465.2 570.5 L461.8 569.6 L461.1 566.6 L464.3 566.4 L463.9 564.0 L460.4 561.9 L460.1 559.1 L463.5 560.0 L463.5 557.7 L460.0 554.7 L460.2 552.1 L463.8 554.2 L464.1 552.2 L460.9 548.2 L461.5 546.1 L464.9 549.2 L465.6 547.5 L462.8 542.9 L463.9 541.2 L467.1 545.2 L468.1 544.0 L465.8 539.0 L467.2 537.9 L470.0 542.5 L471.3 541.9 L469.7 536.6 L471.3 536.2 L473.6 541.2 L475.1 541.1 L474.2 536.0 L476.1 536.2 L477.6 541.4 L479.3 541.9 L479.2 537.0 L481.1 537.9 L482.0 543.0 L483.7 544.0 L484.4 539.8 L486.3 541.2 L486.4 546.1 L488.0 547.5 L489.5 544.1 L491.4 546.1 L490.6 550.3 L492.2 552.2 L494.3 549.7 L496.0 552.1 L494.5 555.5 L495.8 557.8 L498.6 556.4 L500.0 559.1 L497.8 561.6 Z" fill="#fff" stroke="#111" stroke-width="1.38" stroke-linejoin="round" stroke-linecap="round" />
<ellipse cx="483.2" cy="570.5" rx="14.4" ry="26.3" transform="rotate(-22.6 483.2 570.5)" fill="#fff" stroke="#111" stroke-width="1.38" />
<ellipse cx="483.2" cy="570.5" rx="12.8" ry="23.4" transform="rotate(-22.6 483.2 570.5)" fill="#fff" stroke="#111" stroke-width="1.38" />
<ellipse cx="483.2" cy="570.5" rx="7.2" ry="13.1" transform="rotate(-22.6 483.2 570.5)" fill="#fff" stroke="#111" stroke-width="1.38" />
<ellipse cx="483.2" cy="570.5" rx="4.0" ry="7.3" transform="rotate(-22.6 483.2 570.5)" fill="#fff" stroke="#111" stroke-width="1.38" />
<path d="M578.3 715.3 L581.4 718.0 L579.7 721.3 L575.9 720.0 L574.3 722.7 L576.7 726.3 L574.6 729.3 L571.3 726.9 L569.4 729.4 L571.0 733.8 L568.6 736.3 L566.0 733.0 L563.8 735.0 L564.6 740.0 L562.0 742.0 L560.2 737.9 L557.8 739.4 L557.8 744.8 L555.1 746.3 L554.0 741.4 L551.6 742.4 L550.7 748.1 L548.0 748.9 L547.8 743.5 L545.5 743.9 L543.7 749.6 L541.1 749.7 L541.7 744.1 L539.5 743.9 L537.0 749.3 L534.6 748.7 L536.1 743.1 L534.1 742.3 L530.9 747.3 L528.8 746.0 L531.1 740.5 L529.4 739.2 L525.7 743.5 L523.9 741.7 L526.9 736.5 L525.6 734.7 L521.5 738.2 L520.2 735.9 L523.7 731.3 L522.7 729.0 L518.4 731.6 L517.6 728.8 L521.6 724.9 L521.1 722.3 L516.7 723.9 L516.4 720.7 L520.6 717.7 L520.6 714.8 L516.3 715.4 L516.5 712.0 L520.9 710.0 L521.3 707.0 L517.3 706.4 L518.1 702.9 L522.4 702.0 L523.3 698.9 L519.7 697.3 L520.9 693.8 L525.1 694.0 L526.3 691.1 L523.3 688.4 L525.0 685.1 L528.7 686.4 L530.4 683.7 L528.0 680.1 L530.1 677.1 L533.3 679.5 L535.3 677.0 L533.7 672.6 L536.0 670.1 L538.7 673.4 L540.8 671.4 L540.1 666.4 L542.6 664.4 L544.5 668.5 L546.8 667.0 L546.9 661.6 L549.6 660.1 L550.7 664.9 L553.1 664.0 L554.0 658.3 L556.7 657.5 L556.9 662.8 L559.2 662.5 L561.0 656.8 L563.6 656.7 L562.9 662.3 L565.1 662.5 L567.7 657.1 L570.1 657.7 L568.6 663.3 L570.6 664.1 L573.7 659.1 L575.8 660.4 L573.6 665.9 L575.3 667.2 L579.0 662.9 L580.7 664.7 L577.8 669.9 L579.1 671.7 L583.2 668.2 L584.5 670.5 L581.0 675.1 L581.9 677.4 L586.3 674.8 L587.1 677.6 L583.1 681.5 L583.6 684.1 L588.0 682.5 L588.3 685.7 L584.1 688.7 L584.1 691.6 L588.4 691.0 L588.2 694.4 L583.8 696.4 L583.3 699.4 L587.4 700.0 L586.6 703.5 L582.3 704.4 L581.4 707.5 L585.0 709.1 L583.8 712.6 L579.6 712.4 Z" fill="#fff" stroke="#111" stroke-width="1.38" stroke-linejoin="round" stroke-linecap="round" />
<path d="M586.5 719.1L578.3 715.3M589.5 721.8L581.4 718.0M587.9 725.1L579.7 721.3M584.1 723.8L575.9 720.0M582.4 726.5L574.3 722.7M584.8 730.1L576.7 726.3M582.8 733.1L574.6 729.3M579.5 730.7L571.3 726.9M577.5 733.2L569.4 729.4M579.1 737.6L571.0 733.8M576.8 740.1L568.6 736.3M574.2 736.8L566.0 733.0M572.0 738.8L563.8 735.0M572.8 743.8L564.6 740.0M570.2 745.8L562.0 742.0M568.3 741.7L560.2 737.9M566.0 743.2L557.8 739.4M565.9 748.6L557.8 744.8M563.2 750.1L555.1 746.3M562.2 745.3L554.0 741.4M559.8 746.2L551.6 742.4M558.8 751.9L550.7 748.1M556.2 752.7L548.0 748.9M555.9 747.4L547.8 743.5M553.6 747.7L545.5 743.9M551.8 753.4L543.7 749.6M549.3 753.5L541.1 749.7M549.9 747.9L541.7 744.1M547.7 747.7L539.5 743.9M545.2 753.1L537.0 749.3M542.8 752.5L534.6 748.7M544.3 746.9L536.1 743.1M542.3 746.1L534.1 742.3M539.1 751.1L530.9 747.3M537.0 749.8L528.8 746.0M539.3 744.3L531.1 740.5M537.6 743.0L529.4 739.2M533.8 747.3L525.7 743.5M532.1 745.5L523.9 741.7M535.1 740.3L526.9 736.5M533.7 738.5L525.6 734.7M529.6 742.0L521.5 738.2M528.3 739.7L520.2 735.9M531.8 735.1L523.7 731.3M530.9 732.8L522.7 729.0M526.6 735.4L518.4 731.6M525.7 732.6L517.6 728.8M529.7 728.7L521.6 724.9M529.2 726.1L521.1 722.3M524.8 727.7L516.7 723.9M524.5 724.5L516.4 720.7M528.8 721.5L520.6 717.7M528.8 718.6L520.6 714.8M524.5 719.2L516.3 715.4M524.7 715.8L516.5 712.0M529.1 713.8L520.9 710.0M529.5 710.8L521.3 707.0M525.5 710.2L517.3 706.4M526.2 706.7L518.1 702.9M530.6 705.8L522.4 702.0M531.4 702.7L523.3 698.9M527.8 701.1L519.7 697.3M529.1 697.6L520.9 693.8M533.2 697.8L525.1 694.0M534.5 694.9L526.3 691.1M531.5 692.2L523.3 688.4M533.1 688.9L525.0 685.1M536.9 690.2L528.7 686.4M538.6 687.5L530.4 683.7M536.2 683.9L528.0 680.1M538.2 680.9L530.1 677.1M541.5 683.3L533.3 679.5M543.5 680.8L535.3 677.0M541.9 676.4L533.7 672.6M544.2 673.9L536.0 670.1M546.8 677.2L538.7 673.4M549.0 675.2L540.8 671.4M548.2 670.2L540.1 666.4M550.8 668.2L542.6 664.4M552.7 672.3L544.5 668.5M555.0 670.8L546.8 667.0M555.1 665.4L546.9 661.6M557.8 663.9L549.6 660.1M558.8 668.7L550.7 664.9M561.2 667.8L553.1 664.0M562.2 662.1L554.0 658.3M564.8 661.3L556.7 657.5M565.1 666.6L556.9 662.8M567.4 666.3L559.2 662.5M569.2 660.6L561.0 656.8M571.7 660.5L563.6 656.7M571.1 666.1L562.9 662.3M573.3 666.3L565.1 662.5M575.8 660.9L567.7 657.1M578.2 661.5L570.1 657.7M576.7 667.1L568.6 663.3M578.7 667.9L570.6 664.1M581.9 662.9L573.7 659.1M584.0 664.2L575.8 660.4M581.7 669.7L573.6 665.9M583.4 671.0L575.3 667.2M587.2 666.7L579.0 662.9M588.9 668.5L580.7 664.7M585.9 673.7L577.8 669.9M587.3 675.5L579.1 671.7M591.4 672.0L583.2 668.2M592.7 674.3L584.5 670.5M589.2 678.9L581.0 675.1M590.1 681.2L581.9 677.4M594.4 678.6L586.3 674.8M595.3 681.4L587.1 677.6M591.3 685.3L583.1 681.5M591.8 687.9L583.6 684.1M596.2 686.3L588.0 682.5M596.5 689.5L588.3 685.7M592.2 692.5L584.1 688.7M592.2 695.4L584.1 691.6M596.5 694.8L588.4 691.0M596.3 698.2L588.2 694.4M591.9 700.2L583.8 696.4M591.5 703.2L583.3 699.4M595.5 703.8L587.4 700.0M594.8 707.3L586.6 703.5M590.4 708.2L582.3 704.4M589.6 711.3L581.4 707.5M593.2 712.9L585.0 709.1M591.9 716.4L583.8 712.6M587.8 716.2L579.6 712.4" fill="none" stroke="#111" stroke-width="1.03" stroke-linejoin="round" stroke-linecap="round" />
<path d="M586.5 719.1 L589.5 721.8 L587.9 725.1 L584.1 723.8 L582.4 726.5 L584.8 730.1 L582.8 733.1 L579.5 730.7 L577.5 733.2 L579.1 737.6 L576.8 740.1 L574.2 736.8 L572.0 738.8 L572.8 743.8 L570.2 745.8 L568.3 741.7 L566.0 743.2 L565.9 748.6 L563.2 750.1 L562.2 745.3 L559.8 746.2 L558.8 751.9 L556.2 752.7 L555.9 747.4 L553.6 747.7 L551.8 753.4 L549.3 753.5 L549.9 747.9 L547.7 747.7 L545.2 753.1 L542.8 752.5 L544.3 746.9 L542.3 746.1 L539.1 751.1 L537.0 749.8 L539.3 744.3 L537.6 743.0 L533.8 747.3 L532.1 745.5 L535.1 740.3 L533.7 738.5 L529.6 742.0 L528.3 739.7 L531.8 735.1 L530.9 732.8 L526.6 735.4 L525.7 732.6 L529.7 728.7 L529.2 726.1 L524.8 727.7 L524.5 724.5 L528.8 721.5 L528.8 718.6 L524.5 719.2 L524.7 715.8 L529.1 713.8 L529.5 710.8 L525.5 710.2 L526.2 706.7 L530.6 705.8 L531.4 702.7 L527.8 701.1 L529.1 697.6 L533.2 697.8 L534.5 694.9 L531.5 692.2 L533.1 688.9 L536.9 690.2 L538.6 687.5 L536.2 683.9 L538.2 680.9 L541.5 683.3 L543.5 680.8 L541.9 676.4 L544.2 673.9 L546.8 677.2 L549.0 675.2 L548.2 670.2 L550.8 668.2 L552.7 672.3 L555.0 670.8 L555.1 665.4 L557.8 663.9 L558.8 668.7 L561.2 667.8 L562.2 662.1 L564.8 661.3 L565.1 666.6 L567.4 666.3 L569.2 660.6 L571.7 660.5 L571.1 666.1 L573.3 666.3 L575.8 660.9 L578.2 661.5 L576.7 667.1 L578.7 667.9 L581.9 662.9 L584.0 664.2 L581.7 669.7 L583.4 671.0 L587.2 666.7 L588.9 668.5 L585.9 673.7 L587.3 675.5 L591.4 672.0 L592.7 674.3 L589.2 678.9 L590.1 681.2 L594.4 678.6 L595.3 681.4 L591.3 685.3 L591.8 687.9 L596.2 686.3 L596.5 689.5 L592.2 692.5 L592.2 695.4 L596.5 694.8 L596.3 698.2 L591.9 700.2 L591.5 703.2 L595.5 703.8 L594.8 707.3 L590.4 708.2 L589.6 711.3 L593.2 712.9 L591.9 716.4 L587.8 716.2 Z" fill="#fff" stroke="#111" stroke-width="1.38" stroke-linejoin="round" stroke-linecap="round" />
<ellipse cx="560.5" cy="707.0" rx="22.8" ry="34.3" transform="rotate(25 560.5 707.0)" fill="#fff" stroke="#111" stroke-width="1.38" />
<ellipse cx="560.5" cy="707.0" rx="17.0" ry="25.5" transform="rotate(25 560.5 707.0)" fill="#fff" stroke="#111" stroke-width="1.38" />
<ellipse cx="560.5" cy="707.0" rx="10.8" ry="16.2" transform="rotate(25 560.5 707.0)" fill="#fff" stroke="#111" stroke-width="1.38" />
<ellipse cx="560.5" cy="707.0" rx="3.9" ry="5.9" transform="rotate(25 560.5 707.0)" fill="#fff" stroke="#111" stroke-width="1.38" />
<path d="M656.7 695.4 L659.6 698.0 L657.9 701.1 L654.3 699.8 L652.6 702.4 L654.8 705.9 L652.7 708.7 L649.6 706.4 L647.6 708.7 L649.0 712.9 L646.6 715.2 L644.2 712.0 L642.0 713.8 L642.5 718.5 L639.9 720.3 L638.2 716.3 L635.9 717.6 L635.5 722.7 L632.8 723.8 L632.0 719.2 L629.6 719.9 L628.4 725.1 L625.7 725.5 L625.8 720.5 L623.5 720.6 L621.5 725.6 L618.9 725.4 L619.8 720.2 L617.7 719.7 L615.0 724.4 L612.7 723.4 L614.4 718.3 L612.6 717.2 L609.3 721.3 L607.3 719.7 L609.8 714.9 L608.3 713.2 L604.5 716.6 L603.1 714.4 L606.2 710.1 L605.1 707.9 L601.0 710.5 L600.0 707.8 L603.7 704.1 L603.0 701.6 L598.9 703.1 L598.4 700.1 L602.4 697.2 L602.3 694.4 L598.2 694.9 L598.3 691.7 L602.5 689.8 L602.8 686.8 L599.0 686.2 L599.7 682.9 L603.8 682.0 L604.7 679.1 L601.2 677.4 L602.5 674.1 L606.4 674.3 L607.7 671.5 L604.8 668.8 L606.5 665.7 L610.1 667.0 L611.8 664.4 L609.6 660.9 L611.7 658.1 L614.8 660.4 L616.8 658.2 L615.4 654.0 L617.8 651.7 L620.2 654.9 L622.5 653.1 L621.9 648.3 L624.6 646.6 L626.2 650.5 L628.6 649.3 L628.9 644.2 L631.6 643.1 L632.4 647.7 L634.8 647.0 L636.0 641.8 L638.7 641.4 L638.7 646.3 L641.0 646.3 L643.0 641.2 L645.5 641.5 L644.6 646.6 L646.7 647.2 L649.4 642.5 L651.7 643.4 L650.0 648.5 L651.8 649.7 L655.2 645.5 L657.1 647.1 L654.6 652.0 L656.1 653.7 L659.9 650.2 L661.4 652.4 L658.2 656.8 L659.3 658.9 L663.4 656.4 L664.4 659.1 L660.7 662.8 L661.4 665.3 L665.5 663.7 L666.0 666.8 L662.0 669.6 L662.1 672.4 L666.2 671.9 L666.1 675.2 L662.0 677.1 L661.6 680.0 L665.4 680.6 L664.7 684.0 L660.6 684.9 L659.8 687.8 L663.2 689.5 L662.0 692.8 L658.0 692.6 Z" fill="#fff" stroke="#111" stroke-width="1.38" stroke-linejoin="round" stroke-linecap="round" />
<path d="M663.0 698.5L656.7 695.4M665.9 701.1L659.6 698.0M664.2 704.2L657.9 701.1M660.6 702.9L654.3 699.8M658.9 705.5L652.6 702.4M661.1 709.0L654.8 705.9M659.0 711.8L652.7 708.7M655.9 709.5L649.6 706.4M653.9 711.7L647.6 708.7M655.3 716.0L649.0 712.9M652.9 718.3L646.6 715.2M650.5 715.1L644.2 712.0M648.2 716.9L642.0 713.8M648.8 721.6L642.5 718.5M646.2 723.4L639.9 720.3M644.5 719.4L638.2 716.3M642.1 720.7L635.9 717.6M641.8 725.7L635.5 722.7M639.1 726.8L632.8 723.8M638.3 722.3L632.0 719.2M635.9 723.0L629.6 719.9M634.7 728.1L628.4 725.1M632.0 728.6L625.7 725.5M632.1 723.6L625.8 720.5M629.8 723.7L623.5 720.6M627.7 728.7L621.5 725.6M625.2 728.4L618.9 725.4M626.1 723.3L619.8 720.2M624.0 722.8L617.7 719.7M621.3 727.5L615.0 724.4M619.0 726.5L612.7 723.4M620.7 721.4L614.4 718.3M618.9 720.3L612.6 717.2M615.5 724.4L609.3 721.3M613.6 722.8L607.3 719.7M616.1 718.0L609.8 714.9M614.6 716.3L608.3 713.2M610.8 719.7L604.5 716.6M609.3 717.5L603.1 714.4M612.5 713.1L606.2 710.1M611.4 711.0L605.1 707.9M607.3 713.5L601.0 710.5M606.3 710.9L600.0 707.8M610.0 707.2L603.7 704.1M609.3 704.7L603.0 701.6M605.2 706.2L598.9 703.1M604.7 703.2L598.4 700.1M608.7 700.3L602.4 697.2M608.6 697.5L602.3 694.4M604.5 698.0L598.2 694.9M604.6 694.7L598.3 691.7M608.8 692.8L602.5 689.8M609.1 689.9L602.8 686.8M605.3 689.3L599.0 686.2M606.0 685.9L599.7 682.9M610.1 685.1L603.8 682.0M610.9 682.1L604.7 679.1M607.5 680.5L601.2 677.4M608.8 677.2L602.5 674.1M612.7 677.4L606.4 674.3M614.0 674.5L607.7 671.5M611.1 671.9L604.8 668.8M612.8 668.8L606.5 665.7M616.4 670.1L610.1 667.0M618.1 667.5L611.8 664.4M615.9 664.0L609.6 660.9M618.0 661.2L611.7 658.1M621.1 663.5L614.8 660.4M623.1 661.3L616.8 658.2M621.7 657.0L615.4 654.0M624.1 654.7L617.8 651.7M626.5 657.9L620.2 654.9M628.8 656.1L622.5 653.1M628.2 651.4L621.9 648.3M630.8 649.6L624.6 646.6M632.5 653.6L626.2 650.5M634.9 652.3L628.6 649.3M635.2 647.3L628.9 644.2M637.9 646.2L631.6 643.1M638.7 650.7L632.4 647.7M641.1 650.0L634.8 647.0M642.3 644.9L636.0 641.8M645.0 644.4L638.7 641.4M644.9 649.4L638.7 646.3M647.2 649.3L641.0 646.3M649.3 644.3L643.0 641.2M651.8 644.6L645.5 641.5M650.9 649.7L644.6 646.6M653.0 650.2L646.7 647.2M655.7 645.5L649.4 642.5M658.0 646.5L651.7 643.4M656.3 651.6L650.0 648.5M658.1 652.7L651.8 649.7M661.5 648.6L655.2 645.5M663.4 650.2L657.1 647.1M660.9 655.0L654.6 652.0M662.4 656.7L656.1 653.7M666.2 653.3L659.9 650.2M667.7 655.5L661.4 652.4M664.5 659.9L658.2 656.8M665.6 662.0L659.3 658.9M669.7 659.5L663.4 656.4M670.7 662.1L664.4 659.1M667.0 665.8L660.7 662.8M667.7 668.3L661.4 665.3M671.8 666.8L665.5 663.7M672.3 669.8L666.0 666.8M668.3 672.7L662.0 669.6M668.4 675.5L662.1 672.4M672.5 675.0L666.2 671.9M672.4 678.3L666.1 675.2M668.2 680.2L662.0 677.1M667.9 683.1L661.6 680.0M671.7 683.7L665.4 680.6M671.0 687.1L664.7 684.0M666.9 687.9L660.6 684.9M666.1 690.9L659.8 687.8M669.5 692.5L663.2 689.5M668.2 695.8L662.0 692.8M664.3 695.6L658.0 692.6" fill="none" stroke="#111" stroke-width="1.03" stroke-linejoin="round" stroke-linecap="round" />
<path d="M663.0 698.5 L665.9 701.1 L664.2 704.2 L660.6 702.9 L658.9 705.5 L661.1 709.0 L659.0 711.8 L655.9 709.5 L653.9 711.7 L655.3 716.0 L652.9 718.3 L650.5 715.1 L648.2 716.9 L648.8 721.6 L646.2 723.4 L644.5 719.4 L642.1 720.7 L641.8 725.7 L639.1 726.8 L638.3 722.3 L635.9 723.0 L634.7 728.1 L632.0 728.6 L632.1 723.6 L629.8 723.7 L627.7 728.7 L625.2 728.4 L626.1 723.3 L624.0 722.8 L621.3 727.5 L619.0 726.5 L620.7 721.4 L618.9 720.3 L615.5 724.4 L613.6 722.8 L616.1 718.0 L614.6 716.3 L610.8 719.7 L609.3 717.5 L612.5 713.1 L611.4 711.0 L607.3 713.5 L606.3 710.9 L610.0 707.2 L609.3 704.7 L605.2 706.2 L604.7 703.2 L608.7 700.3 L608.6 697.5 L604.5 698.0 L604.6 694.7 L608.8 692.8 L609.1 689.9 L605.3 689.3 L606.0 685.9 L610.1 685.1 L610.9 682.1 L607.5 680.5 L608.8 677.2 L612.7 677.4 L614.0 674.5 L611.1 671.9 L612.8 668.8 L616.4 670.1 L618.1 667.5 L615.9 664.0 L618.0 661.2 L621.1 663.5 L623.1 661.3 L621.7 657.0 L624.1 654.7 L626.5 657.9 L628.8 656.1 L628.2 651.4 L630.8 649.6 L632.5 653.6 L634.9 652.3 L635.2 647.3 L637.9 646.2 L638.7 650.7 L641.1 650.0 L642.3 644.9 L645.0 644.4 L644.9 649.4 L647.2 649.3 L649.3 644.3 L651.8 644.6 L650.9 649.7 L653.0 650.2 L655.7 645.5 L658.0 646.5 L656.3 651.6 L658.1 652.7 L661.5 648.6 L663.4 650.2 L660.9 655.0 L662.4 656.7 L666.2 653.3 L667.7 655.5 L664.5 659.9 L665.6 662.0 L669.7 659.5 L670.7 662.1 L667.0 665.8 L667.7 668.3 L671.8 666.8 L672.3 669.8 L668.3 672.7 L668.4 675.5 L672.5 675.0 L672.4 678.3 L668.2 680.2 L667.9 683.1 L671.7 683.7 L671.0 687.1 L666.9 687.9 L666.1 690.9 L669.5 692.5 L668.2 695.8 L664.3 695.6 Z" fill="#fff" stroke="#111" stroke-width="1.38" stroke-linejoin="round" stroke-linecap="round" />
<ellipse cx="638.5" cy="686.5" rx="21.1" ry="30.3" transform="rotate(26 638.5 686.5)" fill="#fff" stroke="#111" stroke-width="1.38" />
<ellipse cx="638.5" cy="686.5" rx="14.9" ry="21.4" transform="rotate(26 638.5 686.5)" fill="#fff" stroke="#111" stroke-width="1.38" />
<ellipse cx="638.5" cy="686.5" rx="9.3" ry="13.3" transform="rotate(26 638.5 686.5)" fill="#fff" stroke="#111" stroke-width="1.38" />
<ellipse cx="638.5" cy="686.5" rx="3.1" ry="4.5" transform="rotate(26 638.5 686.5)" fill="#fff" stroke="#111" stroke-width="1.38" />
<path d="M608.8 659.5 L610.1 661.0 L608.8 663.3 L607.1 662.8 L605.8 664.6 L606.4 666.7 L604.8 668.6 L603.4 667.2 L601.9 668.6 L601.8 671.0 L599.9 672.2 L599.2 670.2 L597.5 670.8 L596.8 673.4 L594.9 673.7 L594.8 671.3 L593.3 671.2 L592.0 673.5 L590.3 673.0 L590.9 670.4 L589.6 669.6 L587.9 671.4 L586.7 670.0 L587.9 667.6 L587.0 666.2 L585.1 667.3 L584.4 665.3 L586.1 663.3 L585.8 661.4 L583.9 661.7 L583.9 659.3 L585.8 658.0 L586.1 655.9 L584.4 655.2 L585.1 652.7 L587.0 652.3 L587.9 650.2 L586.6 648.8 L587.9 646.4 L589.6 646.9 L590.9 645.1 L590.3 643.0 L591.9 641.2 L593.2 642.5 L594.8 641.2 L594.9 638.7 L596.8 637.6 L597.5 639.6 L599.2 638.9 L599.9 636.4 L601.8 636.0 L601.9 638.5 L603.4 638.6 L604.7 636.2 L606.4 636.8 L605.8 639.3 L607.1 640.2 L608.8 638.4 L610.0 639.7 L608.8 642.1 L609.7 643.6 L611.6 642.5 L612.3 644.5 L610.6 646.4 L610.9 648.3 L612.8 648.1 L612.8 650.5 L610.9 651.7 L610.6 653.9 L612.3 654.5 L611.6 657.0 L609.7 657.4 Z" fill="#fff" stroke="#111" stroke-width="1.38" stroke-linejoin="round" stroke-linecap="round" />
<path d="M612.5 661.2L608.8 659.5M613.7 662.6L610.1 661.0M612.5 664.9L608.8 663.3M610.7 664.4L607.1 662.8M609.5 666.3L605.8 664.6M610.1 668.4L606.4 666.7M608.4 670.2L604.8 668.6M607.1 668.9L603.4 667.2M605.5 670.2L601.9 668.6M605.5 672.7L601.8 671.0M603.6 673.8L599.9 672.2M602.8 671.8L599.2 670.2M601.2 672.5L597.5 670.8M600.4 675.0L596.8 673.4M598.6 675.3L594.9 673.7M598.5 672.9L594.8 671.3M596.9 672.8L593.3 671.2M595.6 675.1L592.0 673.5M593.9 674.6L590.3 673.0M594.6 672.0L590.9 670.4M593.3 671.2L589.6 669.6M591.5 673.0L587.9 671.4M590.3 671.7L586.7 670.0M591.5 669.3L587.9 667.6M590.7 667.8L587.0 666.2M588.7 668.9L585.1 667.3M588.1 666.9L584.4 665.3M589.8 665.0L586.1 663.3M589.5 663.0L585.8 661.4M587.5 663.3L583.9 661.7M587.5 660.9L583.9 659.3M589.5 659.7L585.8 658.0M589.7 657.5L586.1 655.9M588.1 656.9L584.4 655.2M588.7 654.4L585.1 652.7M590.7 654.0L587.0 652.3M591.5 651.8L587.9 650.2M590.3 650.4L586.6 648.8M591.5 648.1L587.9 646.4M593.3 648.6L589.6 646.9M594.5 646.7L590.9 645.1M593.9 644.6L590.3 643.0M595.6 642.8L591.9 641.2M596.9 644.1L593.2 642.5M598.5 642.8L594.8 641.2M598.5 640.3L594.9 638.7M600.4 639.2L596.8 637.6M601.2 641.2L597.5 639.6M602.8 640.5L599.2 638.9M603.6 638.0L599.9 636.4M605.4 637.7L601.8 636.0M605.5 640.1L601.9 638.5M607.1 640.2L603.4 638.6M608.4 637.9L604.7 636.2M610.1 638.4L606.4 636.8M609.4 641.0L605.8 639.3M610.7 641.8L607.1 640.2M612.5 640.0L608.8 638.4M613.7 641.3L610.0 639.7M612.5 643.7L608.8 642.1M613.3 645.2L609.7 643.6M615.3 644.1L611.6 642.5M615.9 646.1L612.3 644.5M614.2 648.0L610.6 646.4M614.5 650.0L610.9 648.3M616.5 649.7L612.8 648.1M616.5 652.1L612.8 650.5M614.5 653.3L610.9 651.7M614.3 655.5L610.6 653.9M615.9 656.1L612.3 654.5M615.3 658.6L611.6 657.0M613.3 659.0L609.7 657.4" fill="none" stroke="#111" stroke-width="1.03" stroke-linejoin="round" stroke-linecap="round" />
<path d="M612.5 661.2 L613.7 662.6 L612.5 664.9 L610.7 664.4 L609.5 666.3 L610.1 668.4 L608.4 670.2 L607.1 668.9 L605.5 670.2 L605.5 672.7 L603.6 673.8 L602.8 671.8 L601.2 672.5 L600.4 675.0 L598.6 675.3 L598.5 672.9 L596.9 672.8 L595.6 675.1 L593.9 674.6 L594.6 672.0 L593.3 671.2 L591.5 673.0 L590.3 671.7 L591.5 669.3 L590.7 667.8 L588.7 668.9 L588.1 666.9 L589.8 665.0 L589.5 663.0 L587.5 663.3 L587.5 660.9 L589.5 659.7 L589.7 657.5 L588.1 656.9 L588.7 654.4 L590.7 654.0 L591.5 651.8 L590.3 650.4 L591.5 648.1 L593.3 648.6 L594.5 646.7 L593.9 644.6 L595.6 642.8 L596.9 644.1 L598.5 642.8 L598.5 640.3 L600.4 639.2 L601.2 641.2 L602.8 640.5 L603.6 638.0 L605.4 637.7 L605.5 640.1 L607.1 640.2 L608.4 637.9 L610.1 638.4 L609.4 641.0 L610.7 641.8 L612.5 640.0 L613.7 641.3 L612.5 643.7 L613.3 645.2 L615.3 644.1 L615.9 646.1 L614.2 648.0 L614.5 650.0 L616.5 649.7 L616.5 652.1 L614.5 653.3 L614.3 655.5 L615.9 656.1 L615.3 658.6 L613.3 659.0 Z" fill="#fff" stroke="#111" stroke-width="1.38" stroke-linejoin="round" stroke-linecap="round" />
<ellipse cx="602.0" cy="656.5" rx="8.2" ry="12.3" transform="rotate(24 602.0 656.5)" fill="#fff" stroke="#111" stroke-width="1.38" />
<ellipse cx="602.0" cy="656.5" rx="5.9" ry="8.9" transform="rotate(24 602.0 656.5)" fill="#fff" stroke="#111" stroke-width="1.38" />
<ellipse cx="602.0" cy="656.5" rx="4.0" ry="5.9" transform="rotate(24 602.0 656.5)" fill="#fff" stroke="#111" stroke-width="1.38" />
<path d="M392.5 593.7 L476 557.3" fill="none" stroke="#111" stroke-width="5.4" stroke-linecap="round"/>
<path d="M392.5 593.7 L476 557.3" fill="none" stroke="#fff" stroke-width="2.6000000000000005" stroke-linecap="round"/>
<path d="M416.5 598.5 L476 572.7" fill="none" stroke="#111" stroke-width="5.4" stroke-linecap="round"/>
<path d="M416.5 598.5 L476 572.7" fill="none" stroke="#fff" stroke-width="2.6000000000000005" stroke-linecap="round"/>
<ellipse cx="477.5" cy="565.0" rx="4.0" ry="7.0" transform="rotate(-20 477.5 565.0)" fill="#fff" stroke="#111" stroke-width="1.15" />
<path d="M387 359.5 L387 274 L465.6 274" fill="none" stroke="#fff" stroke-width="1.72" stroke-linejoin="round" stroke-linecap="round" />
<path d="M682.2 274 L712.8 274 L712.8 388" fill="none" stroke="#fff" stroke-width="1.72" stroke-linejoin="round" stroke-linecap="round" />
<path d="M709.6 364.5 L716 364.5 L712.8 372 Z" fill="#fff" stroke="none" stroke-width="0.0" stroke-linejoin="round" stroke-linecap="round" />
<path d="M681 681.1 L766.6 681.1" fill="none" stroke="#fff" stroke-width="1.72" stroke-linejoin="round" stroke-linecap="round" />
<circle cx="681.5" cy="681.1" r="1.8" fill="#fff"/>
</svg>
</body></html>
